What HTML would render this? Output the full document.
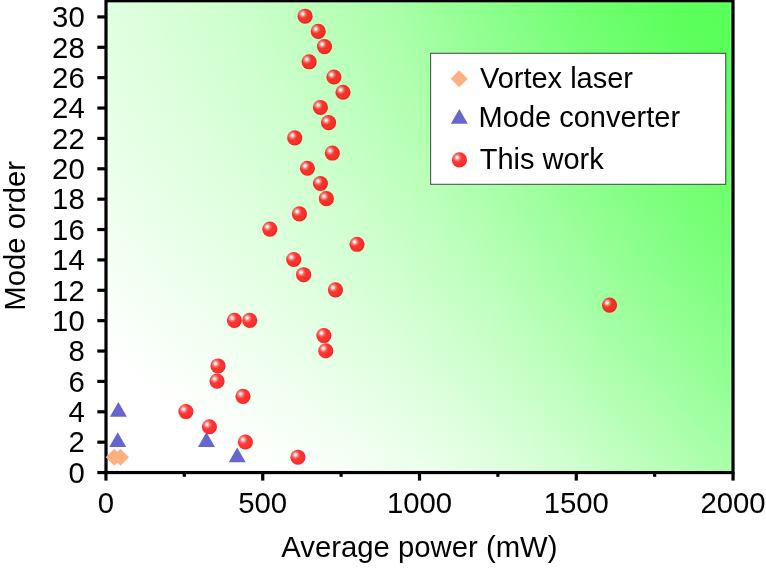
<!DOCTYPE html>
<html><head><meta charset="utf-8"><style>
html,body{margin:0;padding:0;background:#fff;position:relative;width:766px;height:571px;overflow:hidden;}
svg{display:block;will-change:transform;}
text{font-family:"Liberation Sans",sans-serif;font-size:29px;fill:#000;}
.tk{font-size:29.3px;}
.tt{font-size:29.3px;}
#bgw{position:absolute;left:106px;top:0;width:627px;height:473px;overflow:hidden;}
#bgw div{height:2px;}
svg{position:absolute;left:0;top:0;}
</style></head><body>
<div id="bgw"><div style="background:linear-gradient(90deg,#dfffdf,#d9ffd9 7.7%,#d1ffd1 15.4%,#c9ffc9 23.1%,#beffbe 30.8%,#b3ffb3 38.5%,#a6ffa6 46.2%,#98ff98 53.8%,#8aff8a 61.5%,#7cff7c 69.2%,#6eff6e 76.9%,#63ff63 84.6%,#59ff59 92.3%,#57ff57)"></div><div style="background:linear-gradient(90deg,#dfffdf,#d9ffd9 7.7%,#d1ffd1 15.4%,#c9ffc9 23.1%,#bfffbf 30.8%,#b3ffb3 38.5%,#a7ffa7 46.2%,#98ff98 53.8%,#8aff8a 61.5%,#7cff7c 69.2%,#6eff6e 76.9%,#64ff64 84.6%,#59ff59 92.3%,#57ff57)"></div><div style="background:linear-gradient(90deg,#e0ffe0,#d9ffd9 7.7%,#d1ffd1 15.4%,#c9ffc9 23.1%,#bfffbf 30.8%,#b4ffb4 38.5%,#a7ffa7 46.2%,#99ff99 53.8%,#8aff8a 61.5%,#7cff7c 69.2%,#6fff6f 76.9%,#64ff64 84.6%,#59ff59 92.3%,#57ff57)"></div><div style="background:linear-gradient(90deg,#e0ffe0,#d9ffd9 7.7%,#d1ffd1 15.4%,#c9ffc9 23.1%,#bfffbf 30.8%,#b4ffb4 38.5%,#a7ffa7 46.2%,#99ff99 53.8%,#8aff8a 61.5%,#7dff7d 69.2%,#6fff6f 76.9%,#64ff64 84.6%,#5aff5a 92.3%,#57ff57)"></div><div style="background:linear-gradient(90deg,#e0ffe0,#d9ffd9 7.7%,#d1ffd1 15.4%,#c9ffc9 23.1%,#bfffbf 30.8%,#b4ffb4 38.5%,#a8ffa8 46.2%,#99ff99 53.8%,#8bff8b 61.5%,#7dff7d 69.2%,#6fff6f 76.9%,#64ff64 84.6%,#5aff5a 92.3%,#57ff57)"></div><div style="background:linear-gradient(90deg,#e0ffe0,#d9ffd9 7.7%,#d2ffd2 15.4%,#c9ffc9 23.1%,#c0ffc0 30.8%,#b4ffb4 38.5%,#a8ffa8 46.2%,#99ff99 53.8%,#8bff8b 61.5%,#7dff7d 69.2%,#70ff70 76.9%,#65ff65 84.6%,#5aff5a 92.3%,#57ff57)"></div><div style="background:linear-gradient(90deg,#e0ffe0,#d9ffd9 7.7%,#d2ffd2 15.4%,#caffca 23.1%,#c0ffc0 30.8%,#b5ffb5 38.5%,#a8ffa8 46.2%,#9aff9a 53.8%,#8bff8b 61.5%,#7eff7e 69.2%,#70ff70 76.9%,#65ff65 84.6%,#5aff5a 92.3%,#57ff57)"></div><div style="background:linear-gradient(90deg,#e0ffe0,#daffda 7.7%,#d2ffd2 15.4%,#caffca 23.1%,#c0ffc0 30.8%,#b5ffb5 38.5%,#a9ffa9 46.2%,#9aff9a 53.8%,#8cff8c 61.5%,#7eff7e 69.2%,#70ff70 76.9%,#65ff65 84.6%,#5bff5b 92.3%,#58ff58)"></div><div style="background:linear-gradient(90deg,#e0ffe0,#daffda 7.7%,#d2ffd2 15.4%,#caffca 23.1%,#c0ffc0 30.8%,#b5ffb5 38.5%,#a9ffa9 46.2%,#9aff9a 53.8%,#8cff8c 61.5%,#7eff7e 69.2%,#71ff71 76.9%,#66ff66 84.6%,#5bff5b 92.3%,#58ff58)"></div><div style="background:linear-gradient(90deg,#e0ffe0,#daffda 7.7%,#d2ffd2 15.4%,#caffca 23.1%,#c0ffc0 30.8%,#b5ffb5 38.5%,#a9ffa9 46.2%,#9bff9b 53.8%,#8cff8c 61.5%,#7fff7f 69.2%,#71ff71 76.9%,#66ff66 84.6%,#5bff5b 92.3%,#58ff58)"></div><div style="background:linear-gradient(90deg,#e0ffe0,#daffda 7.7%,#d2ffd2 15.4%,#caffca 23.1%,#c1ffc1 30.8%,#b5ffb5 38.5%,#a9ffa9 46.2%,#9bff9b 53.8%,#8cff8c 61.5%,#7fff7f 69.2%,#71ff71 76.9%,#66ff66 84.6%,#5bff5b 92.3%,#58ff58)"></div><div style="background:linear-gradient(90deg,#e1ffe1,#daffda 7.7%,#d2ffd2 15.4%,#caffca 23.1%,#c1ffc1 30.8%,#b6ffb6 38.5%,#aaffaa 46.2%,#9bff9b 53.8%,#8dff8d 61.5%,#7fff7f 69.2%,#72ff72 76.9%,#66ff66 84.6%,#5cff5c 92.3%,#58ff58)"></div><div style="background:linear-gradient(90deg,#e1ffe1,#daffda 7.7%,#d3ffd3 15.4%,#cbffcb 23.1%,#c1ffc1 30.8%,#b6ffb6 38.5%,#aaffaa 46.2%,#9cff9c 53.8%,#8dff8d 61.5%,#7fff7f 69.2%,#72ff72 76.9%,#67ff67 84.6%,#5cff5c 92.3%,#58ff58)"></div><div style="background:linear-gradient(90deg,#e1ffe1,#daffda 7.7%,#d3ffd3 15.4%,#cbffcb 23.1%,#c1ffc1 30.8%,#b6ffb6 38.5%,#aaffaa 46.2%,#9cff9c 53.8%,#8dff8d 61.5%,#80ff80 69.2%,#72ff72 76.9%,#67ff67 84.6%,#5cff5c 92.3%,#58ff58)"></div><div style="background:linear-gradient(90deg,#e1ffe1,#daffda 7.7%,#d3ffd3 15.4%,#cbffcb 23.1%,#c2ffc2 30.8%,#b6ffb6 38.5%,#abffab 46.2%,#9cff9c 53.8%,#8eff8e 61.5%,#80ff80 69.2%,#72ff72 76.9%,#67ff67 84.6%,#5dff5d 92.3%,#58ff58)"></div><div style="background:linear-gradient(90deg,#e1ffe1,#dbffdb 7.7%,#d3ffd3 15.4%,#cbffcb 23.1%,#c2ffc2 30.8%,#b7ffb7 38.5%,#abffab 46.2%,#9cff9c 53.8%,#8eff8e 61.5%,#80ff80 69.2%,#73ff73 76.9%,#67ff67 84.6%,#5dff5d 92.3%,#58ff58)"></div><div style="background:linear-gradient(90deg,#e1ffe1,#dbffdb 7.7%,#d3ffd3 15.4%,#cbffcb 23.1%,#c2ffc2 30.8%,#b7ffb7 38.5%,#abffab 46.2%,#9dff9d 53.8%,#8eff8e 61.5%,#81ff81 69.2%,#73ff73 76.9%,#68ff68 84.6%,#5dff5d 92.3%,#59ff59)"></div><div style="background:linear-gradient(90deg,#e1ffe1,#dbffdb 7.7%,#d3ffd3 15.4%,#cbffcb 23.1%,#c2ffc2 30.8%,#b7ffb7 38.5%,#abffab 46.2%,#9dff9d 53.8%,#8fff8f 61.5%,#81ff81 69.2%,#73ff73 76.9%,#68ff68 84.6%,#5dff5d 92.3%,#59ff59)"></div><div style="background:linear-gradient(90deg,#e1ffe1,#dbffdb 7.7%,#d4ffd4 15.4%,#ccffcc 23.1%,#c2ffc2 30.8%,#b7ffb7 38.5%,#acffac 46.2%,#9dff9d 53.8%,#8fff8f 61.5%,#81ff81 69.2%,#74ff74 76.9%,#68ff68 84.6%,#5eff5e 92.3%,#59ff59)"></div><div style="background:linear-gradient(90deg,#e2ffe2,#dbffdb 7.7%,#d4ffd4 15.4%,#ccffcc 23.1%,#c3ffc3 30.8%,#b8ffb8 38.5%,#acffac 46.2%,#9eff9e 53.8%,#8fff8f 61.5%,#82ff82 69.2%,#74ff74 76.9%,#69ff69 84.6%,#5eff5e 92.3%,#59ff59)"></div><div style="background:linear-gradient(90deg,#e2ffe2,#dbffdb 7.7%,#d4ffd4 15.4%,#ccffcc 23.1%,#c3ffc3 30.8%,#b8ffb8 38.5%,#acffac 46.2%,#9eff9e 53.8%,#90ff90 61.5%,#82ff82 69.2%,#74ff74 76.9%,#69ff69 84.6%,#5eff5e 92.3%,#59ff59)"></div><div style="background:linear-gradient(90deg,#e2ffe2,#dbffdb 7.7%,#d4ffd4 15.4%,#ccffcc 23.1%,#c3ffc3 30.8%,#b8ffb8 38.5%,#adffad 46.2%,#9eff9e 53.8%,#90ff90 61.5%,#82ff82 69.2%,#75ff75 76.9%,#69ff69 84.6%,#5fff5f 92.3%,#59ff59)"></div><div style="background:linear-gradient(90deg,#e2ffe2,#dcffdc 7.7%,#d4ffd4 15.4%,#ccffcc 23.1%,#c3ffc3 30.8%,#b8ffb8 38.5%,#adffad 46.2%,#9fff9f 53.8%,#90ff90 61.5%,#83ff83 69.2%,#75ff75 76.9%,#69ff69 84.6%,#5fff5f 92.3%,#59ff59)"></div><div style="background:linear-gradient(90deg,#e2ffe2,#dcffdc 7.7%,#d4ffd4 15.4%,#ccffcc 23.1%,#c4ffc4 30.8%,#b9ffb9 38.5%,#adffad 46.2%,#9fff9f 53.8%,#91ff91 61.5%,#83ff83 69.2%,#75ff75 76.9%,#6aff6a 84.6%,#5fff5f 92.3%,#59ff59)"></div><div style="background:linear-gradient(90deg,#e2ffe2,#dcffdc 7.7%,#d5ffd5 15.4%,#cdffcd 23.1%,#c4ffc4 30.8%,#b9ffb9 38.5%,#aeffae 46.2%,#9fff9f 53.8%,#91ff91 61.5%,#83ff83 69.2%,#76ff76 76.9%,#6aff6a 84.6%,#5fff5f 92.3%,#59ff59)"></div><div style="background:linear-gradient(90deg,#e2ffe2,#dcffdc 7.7%,#d5ffd5 15.4%,#cdffcd 23.1%,#c4ffc4 30.8%,#b9ffb9 38.5%,#aeffae 46.2%,#a0ffa0 53.8%,#91ff91 61.5%,#83ff83 69.2%,#76ff76 76.9%,#6aff6a 84.6%,#60ff60 92.3%,#5aff5a)"></div><div style="background:linear-gradient(90deg,#e2ffe2,#dcffdc 7.7%,#d5ffd5 15.4%,#cdffcd 23.1%,#c4ffc4 30.8%,#b9ffb9 38.5%,#aeffae 46.2%,#a0ffa0 53.8%,#92ff92 61.5%,#84ff84 69.2%,#76ff76 76.9%,#6bff6b 84.6%,#60ff60 92.3%,#5aff5a)"></div><div style="background:linear-gradient(90deg,#e3ffe3,#dcffdc 7.7%,#d5ffd5 15.4%,#cdffcd 23.1%,#c5ffc5 30.8%,#baffba 38.5%,#afffaf 46.2%,#a0ffa0 53.8%,#92ff92 61.5%,#84ff84 69.2%,#77ff77 76.9%,#6bff6b 84.6%,#60ff60 92.3%,#5aff5a)"></div><div style="background:linear-gradient(90deg,#e3ffe3,#dcffdc 7.7%,#d5ffd5 15.4%,#cdffcd 23.1%,#c5ffc5 30.8%,#baffba 38.5%,#afffaf 46.2%,#a0ffa0 53.8%,#92ff92 61.5%,#84ff84 69.2%,#77ff77 76.9%,#6bff6b 84.6%,#61ff61 92.3%,#5aff5a)"></div><div style="background:linear-gradient(90deg,#e3ffe3,#ddffdd 7.7%,#d6ffd6 15.4%,#ceffce 23.1%,#c5ffc5 30.8%,#baffba 38.5%,#afffaf 46.2%,#a1ffa1 53.8%,#92ff92 61.5%,#85ff85 69.2%,#77ff77 76.9%,#6bff6b 84.6%,#61ff61 92.3%,#5aff5a)"></div><div style="background:linear-gradient(90deg,#e3ffe3,#ddffdd 7.7%,#d6ffd6 15.4%,#ceffce 23.1%,#c5ffc5 30.8%,#baffba 38.5%,#afffaf 46.2%,#a1ffa1 53.8%,#93ff93 61.5%,#85ff85 69.2%,#78ff78 76.9%,#6cff6c 84.6%,#61ff61 92.3%,#5aff5a)"></div><div style="background:linear-gradient(90deg,#e3ffe3,#ddffdd 7.7%,#d6ffd6 15.4%,#ceffce 23.1%,#c6ffc6 30.8%,#bbffbb 38.5%,#b0ffb0 46.2%,#a1ffa1 53.8%,#93ff93 61.5%,#85ff85 69.2%,#78ff78 76.9%,#6cff6c 84.6%,#62ff62 92.3%,#5aff5a)"></div><div style="background:linear-gradient(90deg,#e3ffe3,#ddffdd 7.7%,#d6ffd6 15.4%,#ceffce 23.1%,#c6ffc6 30.8%,#bbffbb 38.5%,#b0ffb0 46.2%,#a2ffa2 53.8%,#93ff93 61.5%,#86ff86 69.2%,#78ff78 76.9%,#6cff6c 84.6%,#62ff62 92.3%,#5aff5a)"></div><div style="background:linear-gradient(90deg,#e3ffe3,#ddffdd 7.7%,#d6ffd6 15.4%,#ceffce 23.1%,#c6ffc6 30.8%,#bbffbb 38.5%,#b0ffb0 46.2%,#a2ffa2 53.8%,#94ff94 61.5%,#86ff86 69.2%,#79ff79 76.9%,#6dff6d 84.6%,#62ff62 92.3%,#5bff5b)"></div><div style="background:linear-gradient(90deg,#e4ffe4,#ddffdd 7.7%,#d6ffd6 15.4%,#ceffce 23.1%,#c6ffc6 30.8%,#bbffbb 38.5%,#b0ffb0 46.2%,#a2ffa2 53.8%,#94ff94 61.5%,#86ff86 69.2%,#79ff79 76.9%,#6dff6d 84.6%,#62ff62 92.3%,#5bff5b)"></div><div style="background:linear-gradient(90deg,#e4ffe4,#ddffdd 7.7%,#d7ffd7 15.4%,#cfffcf 23.1%,#c7ffc7 30.8%,#bcffbc 38.5%,#b1ffb1 46.2%,#a3ffa3 53.8%,#94ff94 61.5%,#87ff87 69.2%,#79ff79 76.9%,#6dff6d 84.6%,#63ff63 92.3%,#5bff5b)"></div><div style="background:linear-gradient(90deg,#e4ffe4,#deffde 7.7%,#d7ffd7 15.4%,#cfffcf 23.1%,#c7ffc7 30.8%,#bcffbc 38.5%,#b1ffb1 46.2%,#a3ffa3 53.8%,#95ff95 61.5%,#87ff87 69.2%,#7aff7a 76.9%,#6dff6d 84.6%,#63ff63 92.3%,#5bff5b)"></div><div style="background:linear-gradient(90deg,#e4ffe4,#deffde 7.7%,#d7ffd7 15.4%,#cfffcf 23.1%,#c7ffc7 30.8%,#bcffbc 38.5%,#b1ffb1 46.2%,#a3ffa3 53.8%,#95ff95 61.5%,#87ff87 69.2%,#7aff7a 76.9%,#6eff6e 84.6%,#63ff63 92.3%,#5bff5b)"></div><div style="background:linear-gradient(90deg,#e4ffe4,#deffde 7.7%,#d7ffd7 15.4%,#cfffcf 23.1%,#c7ffc7 30.8%,#bcffbc 38.5%,#b1ffb1 46.2%,#a4ffa4 53.8%,#95ff95 61.5%,#88ff88 69.2%,#7aff7a 76.9%,#6eff6e 84.6%,#64ff64 92.3%,#5bff5b)"></div><div style="background:linear-gradient(90deg,#e4ffe4,#deffde 7.7%,#d7ffd7 15.4%,#cfffcf 23.1%,#c8ffc8 30.8%,#bdffbd 38.5%,#b2ffb2 46.2%,#a4ffa4 53.8%,#96ff96 61.5%,#88ff88 69.2%,#7bff7b 76.9%,#6eff6e 84.6%,#64ff64 92.3%,#5bff5b)"></div><div style="background:linear-gradient(90deg,#e4ffe4,#deffde 7.7%,#d7ffd7 15.4%,#d0ffd0 23.1%,#c8ffc8 30.8%,#bdffbd 38.5%,#b2ffb2 46.2%,#a4ffa4 53.8%,#96ff96 61.5%,#88ff88 69.2%,#7bff7b 76.9%,#6fff6f 84.6%,#64ff64 92.3%,#5bff5b)"></div><div style="background:linear-gradient(90deg,#e5ffe5,#deffde 7.7%,#d8ffd8 15.4%,#d0ffd0 23.1%,#c8ffc8 30.8%,#bdffbd 38.5%,#b2ffb2 46.2%,#a5ffa5 53.8%,#96ff96 61.5%,#89ff89 69.2%,#7bff7b 76.9%,#6fff6f 84.6%,#65ff65 92.3%,#5cff5c)"></div><div style="background:linear-gradient(90deg,#e5ffe5,#deffde 7.7%,#d8ffd8 15.4%,#d0ffd0 23.1%,#c8ffc8 30.8%,#bdffbd 38.5%,#b2ffb2 46.2%,#a5ffa5 53.8%,#97ff97 61.5%,#89ff89 69.2%,#7cff7c 76.9%,#6fff6f 84.6%,#65ff65 92.3%,#5cff5c)"></div><div style="background:linear-gradient(90deg,#e5ffe5,#dfffdf 7.7%,#d8ffd8 15.4%,#d0ffd0 23.1%,#c8ffc8 30.8%,#beffbe 38.5%,#b3ffb3 46.2%,#a5ffa5 53.8%,#97ff97 61.5%,#89ff89 69.2%,#7cff7c 76.9%,#70ff70 84.6%,#65ff65 92.3%,#5cff5c)"></div><div style="background:linear-gradient(90deg,#e5ffe5,#dfffdf 7.7%,#d8ffd8 15.4%,#d0ffd0 23.1%,#c9ffc9 30.8%,#beffbe 38.5%,#b3ffb3 46.2%,#a6ffa6 53.8%,#97ff97 61.5%,#8aff8a 69.2%,#7cff7c 76.9%,#70ff70 84.6%,#65ff65 92.3%,#5cff5c)"></div><div style="background:linear-gradient(90deg,#e5ffe5,#dfffdf 7.7%,#d8ffd8 15.4%,#d1ffd1 23.1%,#c9ffc9 30.8%,#beffbe 38.5%,#b3ffb3 46.2%,#a6ffa6 53.8%,#98ff98 61.5%,#8aff8a 69.2%,#7dff7d 76.9%,#70ff70 84.6%,#66ff66 92.3%,#5cff5c)"></div><div style="background:linear-gradient(90deg,#e5ffe5,#dfffdf 7.7%,#d9ffd9 15.4%,#d1ffd1 23.1%,#c9ffc9 30.8%,#beffbe 38.5%,#b3ffb3 46.2%,#a6ffa6 53.8%,#98ff98 61.5%,#8aff8a 69.2%,#7dff7d 76.9%,#70ff70 84.6%,#66ff66 92.3%,#5cff5c)"></div><div style="background:linear-gradient(90deg,#e5ffe5,#dfffdf 7.7%,#d9ffd9 15.4%,#d1ffd1 23.1%,#c9ffc9 30.8%,#bfffbf 38.5%,#b4ffb4 46.2%,#a7ffa7 53.8%,#98ff98 61.5%,#8bff8b 69.2%,#7dff7d 76.9%,#71ff71 84.6%,#66ff66 92.3%,#5cff5c)"></div><div style="background:linear-gradient(90deg,#e6ffe6,#dfffdf 7.7%,#d9ffd9 15.4%,#d1ffd1 23.1%,#c9ffc9 30.8%,#bfffbf 38.5%,#b4ffb4 46.2%,#a7ffa7 53.8%,#99ff99 61.5%,#8bff8b 69.2%,#7eff7e 76.9%,#71ff71 84.6%,#67ff67 92.3%,#5cff5c)"></div><div style="background:linear-gradient(90deg,#e6ffe6,#dfffdf 7.7%,#d9ffd9 15.4%,#d1ffd1 23.1%,#caffca 30.8%,#bfffbf 38.5%,#b4ffb4 46.2%,#a7ffa7 53.8%,#99ff99 61.5%,#8bff8b 69.2%,#7eff7e 76.9%,#71ff71 84.6%,#67ff67 92.3%,#5dff5d)"></div><div style="background:linear-gradient(90deg,#e6ffe6,#e0ffe0 7.7%,#d9ffd9 15.4%,#d2ffd2 23.1%,#caffca 30.8%,#bfffbf 38.5%,#b5ffb5 46.2%,#a8ffa8 53.8%,#99ff99 61.5%,#8cff8c 69.2%,#7eff7e 76.9%,#72ff72 84.6%,#67ff67 92.3%,#5dff5d)"></div><div style="background:linear-gradient(90deg,#e6ffe6,#e0ffe0 7.7%,#daffda 15.4%,#d2ffd2 23.1%,#caffca 30.8%,#c0ffc0 38.5%,#b5ffb5 46.2%,#a8ffa8 53.8%,#9aff9a 61.5%,#8cff8c 69.2%,#7fff7f 76.9%,#72ff72 84.6%,#68ff68 92.3%,#5dff5d)"></div><div style="background:linear-gradient(90deg,#e6ffe6,#e0ffe0 7.7%,#daffda 15.4%,#d2ffd2 23.1%,#caffca 30.8%,#c0ffc0 38.5%,#b5ffb5 46.2%,#a8ffa8 53.8%,#9aff9a 61.5%,#8cff8c 69.2%,#7fff7f 76.9%,#72ff72 84.6%,#68ff68 92.3%,#5eff5e)"></div><div style="background:linear-gradient(90deg,#e6ffe6,#e0ffe0 7.7%,#daffda 15.4%,#d2ffd2 23.1%,#caffca 30.8%,#c0ffc0 38.5%,#b5ffb5 46.2%,#a9ffa9 53.8%,#9aff9a 61.5%,#8dff8d 69.2%,#7fff7f 76.9%,#73ff73 84.6%,#68ff68 92.3%,#5eff5e)"></div><div style="background:linear-gradient(90deg,#e6ffe6,#e0ffe0 7.7%,#daffda 15.4%,#d2ffd2 23.1%,#cbffcb 30.8%,#c0ffc0 38.5%,#b6ffb6 46.2%,#a9ffa9 53.8%,#9bff9b 61.5%,#8dff8d 69.2%,#80ff80 76.9%,#73ff73 84.6%,#69ff69 92.3%,#5eff5e)"></div><div style="background:linear-gradient(90deg,#e7ffe7,#e0ffe0 7.7%,#daffda 15.4%,#d3ffd3 23.1%,#cbffcb 30.8%,#c1ffc1 38.5%,#b6ffb6 46.2%,#a9ffa9 53.8%,#9bff9b 61.5%,#8dff8d 69.2%,#80ff80 76.9%,#73ff73 84.6%,#69ff69 92.3%,#5fff5f)"></div><div style="background:linear-gradient(90deg,#e7ffe7,#e1ffe1 7.7%,#daffda 15.4%,#d3ffd3 23.1%,#cbffcb 30.8%,#c1ffc1 38.5%,#b6ffb6 46.2%,#aaffaa 53.8%,#9cff9c 61.5%,#8eff8e 69.2%,#80ff80 76.9%,#73ff73 84.6%,#69ff69 92.3%,#5fff5f)"></div><div style="background:linear-gradient(90deg,#e7ffe7,#e1ffe1 7.7%,#dbffdb 15.4%,#d3ffd3 23.1%,#cbffcb 30.8%,#c1ffc1 38.5%,#b6ffb6 46.2%,#aaffaa 53.8%,#9cff9c 61.5%,#8eff8e 69.2%,#81ff81 76.9%,#74ff74 84.6%,#6aff6a 92.3%,#5fff5f)"></div><div style="background:linear-gradient(90deg,#e7ffe7,#e1ffe1 7.7%,#dbffdb 15.4%,#d3ffd3 23.1%,#ccffcc 30.8%,#c2ffc2 38.5%,#b7ffb7 46.2%,#aaffaa 53.8%,#9cff9c 61.5%,#8eff8e 69.2%,#81ff81 76.9%,#74ff74 84.6%,#6aff6a 92.3%,#60ff60)"></div><div style="background:linear-gradient(90deg,#e7ffe7,#e1ffe1 7.7%,#dbffdb 15.4%,#d3ffd3 23.1%,#ccffcc 30.8%,#c2ffc2 38.5%,#b7ffb7 46.2%,#abffab 53.8%,#9dff9d 61.5%,#8fff8f 69.2%,#81ff81 76.9%,#74ff74 84.6%,#6aff6a 92.3%,#60ff60)"></div><div style="background:linear-gradient(90deg,#e7ffe7,#e1ffe1 7.7%,#dbffdb 15.4%,#d4ffd4 23.1%,#ccffcc 30.8%,#c2ffc2 38.5%,#b7ffb7 46.2%,#abffab 53.8%,#9dff9d 61.5%,#8fff8f 69.2%,#82ff82 76.9%,#75ff75 84.6%,#6aff6a 92.3%,#60ff60)"></div><div style="background:linear-gradient(90deg,#e8ffe8,#e1ffe1 7.7%,#dbffdb 15.4%,#d4ffd4 23.1%,#ccffcc 30.8%,#c2ffc2 38.5%,#b8ffb8 46.2%,#abffab 53.8%,#9dff9d 61.5%,#8fff8f 69.2%,#82ff82 76.9%,#75ff75 84.6%,#6bff6b 92.3%,#61ff61)"></div><div style="background:linear-gradient(90deg,#e8ffe8,#e2ffe2 7.7%,#dcffdc 15.4%,#d4ffd4 23.1%,#ccffcc 30.8%,#c3ffc3 38.5%,#b8ffb8 46.2%,#acffac 53.8%,#9eff9e 61.5%,#90ff90 69.2%,#83ff83 76.9%,#75ff75 84.6%,#6bff6b 92.3%,#61ff61)"></div><div style="background:linear-gradient(90deg,#e8ffe8,#e2ffe2 7.7%,#dcffdc 15.4%,#d4ffd4 23.1%,#cdffcd 30.8%,#c3ffc3 38.5%,#b8ffb8 46.2%,#acffac 53.8%,#9eff9e 61.5%,#90ff90 69.2%,#83ff83 76.9%,#76ff76 84.6%,#6bff6b 92.3%,#61ff61)"></div><div style="background:linear-gradient(90deg,#e8ffe8,#e2ffe2 7.7%,#dcffdc 15.4%,#d4ffd4 23.1%,#cdffcd 30.8%,#c3ffc3 38.5%,#b8ffb8 46.2%,#acffac 53.8%,#9eff9e 61.5%,#90ff90 69.2%,#83ff83 76.9%,#76ff76 84.6%,#6cff6c 92.3%,#62ff62)"></div><div style="background:linear-gradient(90deg,#e8ffe8,#e2ffe2 7.7%,#dcffdc 15.4%,#d5ffd5 23.1%,#cdffcd 30.8%,#c3ffc3 38.5%,#b9ffb9 46.2%,#adffad 53.8%,#9fff9f 61.5%,#91ff91 69.2%,#84ff84 76.9%,#76ff76 84.6%,#6cff6c 92.3%,#62ff62)"></div><div style="background:linear-gradient(90deg,#e8ffe8,#e2ffe2 7.7%,#dcffdc 15.4%,#d5ffd5 23.1%,#cdffcd 30.8%,#c4ffc4 38.5%,#b9ffb9 46.2%,#adffad 53.8%,#9fff9f 61.5%,#91ff91 69.2%,#84ff84 76.9%,#77ff77 84.6%,#6cff6c 92.3%,#62ff62)"></div><div style="background:linear-gradient(90deg,#e9ffe9,#e2ffe2 7.7%,#dcffdc 15.4%,#d5ffd5 23.1%,#cdffcd 30.8%,#c4ffc4 38.5%,#b9ffb9 46.2%,#adffad 53.8%,#9fff9f 61.5%,#92ff92 69.2%,#84ff84 76.9%,#77ff77 84.6%,#6dff6d 92.3%,#63ff63)"></div><div style="background:linear-gradient(90deg,#e9ffe9,#e3ffe3 7.7%,#ddffdd 15.4%,#d5ffd5 23.1%,#ceffce 30.8%,#c4ffc4 38.5%,#baffba 46.2%,#aeffae 53.8%,#a0ffa0 61.5%,#92ff92 69.2%,#85ff85 76.9%,#78ff78 84.6%,#6dff6d 92.3%,#63ff63)"></div><div style="background:linear-gradient(90deg,#e9ffe9,#e3ffe3 7.7%,#ddffdd 15.4%,#d5ffd5 23.1%,#ceffce 30.8%,#c5ffc5 38.5%,#baffba 46.2%,#aeffae 53.8%,#a0ffa0 61.5%,#92ff92 69.2%,#85ff85 76.9%,#78ff78 84.6%,#6dff6d 92.3%,#63ff63)"></div><div style="background:linear-gradient(90deg,#e9ffe9,#e3ffe3 7.7%,#ddffdd 15.4%,#d6ffd6 23.1%,#ceffce 30.8%,#c5ffc5 38.5%,#baffba 46.2%,#aeffae 53.8%,#a0ffa0 61.5%,#93ff93 69.2%,#85ff85 76.9%,#78ff78 84.6%,#6eff6e 92.3%,#64ff64)"></div><div style="background:linear-gradient(90deg,#e9ffe9,#e3ffe3 7.7%,#ddffdd 15.4%,#d6ffd6 23.1%,#ceffce 30.8%,#c5ffc5 38.5%,#baffba 46.2%,#afffaf 53.8%,#a1ffa1 61.5%,#93ff93 69.2%,#86ff86 76.9%,#79ff79 84.6%,#6eff6e 92.3%,#64ff64)"></div><div style="background:linear-gradient(90deg,#e9ffe9,#e3ffe3 7.7%,#ddffdd 15.4%,#d6ffd6 23.1%,#cfffcf 30.8%,#c5ffc5 38.5%,#bbffbb 46.2%,#afffaf 53.8%,#a1ffa1 61.5%,#93ff93 69.2%,#86ff86 76.9%,#79ff79 84.6%,#6eff6e 92.3%,#64ff64)"></div><div style="background:linear-gradient(90deg,#eaffea,#e3ffe3 7.7%,#ddffdd 15.4%,#d6ffd6 23.1%,#cfffcf 30.8%,#c6ffc6 38.5%,#bbffbb 46.2%,#afffaf 53.8%,#a2ffa2 61.5%,#94ff94 69.2%,#86ff86 76.9%,#79ff79 84.6%,#6fff6f 92.3%,#65ff65)"></div><div style="background:linear-gradient(90deg,#eaffea,#e4ffe4 7.7%,#deffde 15.4%,#d7ffd7 23.1%,#cfffcf 30.8%,#c6ffc6 38.5%,#bbffbb 46.2%,#b0ffb0 53.8%,#a2ffa2 61.5%,#94ff94 69.2%,#87ff87 76.9%,#7aff7a 84.6%,#6fff6f 92.3%,#65ff65)"></div><div style="background:linear-gradient(90deg,#eaffea,#e4ffe4 7.7%,#deffde 15.4%,#d7ffd7 23.1%,#cfffcf 30.8%,#c6ffc6 38.5%,#bcffbc 46.2%,#b0ffb0 53.8%,#a2ffa2 61.5%,#94ff94 69.2%,#87ff87 76.9%,#7aff7a 84.6%,#6fff6f 92.3%,#65ff65)"></div><div style="background:linear-gradient(90deg,#eaffea,#e4ffe4 7.7%,#deffde 15.4%,#d7ffd7 23.1%,#cfffcf 30.8%,#c7ffc7 38.5%,#bcffbc 46.2%,#b1ffb1 53.8%,#a3ffa3 61.5%,#95ff95 69.2%,#88ff88 76.9%,#7aff7a 84.6%,#70ff70 92.3%,#66ff66)"></div><div style="background:linear-gradient(90deg,#eaffea,#e4ffe4 7.7%,#deffde 15.4%,#d7ffd7 23.1%,#d0ffd0 30.8%,#c7ffc7 38.5%,#bcffbc 46.2%,#b1ffb1 53.8%,#a3ffa3 61.5%,#95ff95 69.2%,#88ff88 76.9%,#7bff7b 84.6%,#70ff70 92.3%,#66ff66)"></div><div style="background:linear-gradient(90deg,#eaffea,#e4ffe4 7.7%,#deffde 15.4%,#d7ffd7 23.1%,#d0ffd0 30.8%,#c7ffc7 38.5%,#bcffbc 46.2%,#b1ffb1 53.8%,#a3ffa3 61.5%,#95ff95 69.2%,#88ff88 76.9%,#7bff7b 84.6%,#70ff70 92.3%,#66ff66)"></div><div style="background:linear-gradient(90deg,#ebffeb,#e5ffe5 7.7%,#dfffdf 15.4%,#d8ffd8 23.1%,#d0ffd0 30.8%,#c7ffc7 38.5%,#bdffbd 46.2%,#b2ffb2 53.8%,#a4ffa4 61.5%,#96ff96 69.2%,#89ff89 76.9%,#7cff7c 84.6%,#71ff71 92.3%,#67ff67)"></div><div style="background:linear-gradient(90deg,#ebffeb,#e5ffe5 7.7%,#dfffdf 15.4%,#d8ffd8 23.1%,#d0ffd0 30.8%,#c8ffc8 38.5%,#bdffbd 46.2%,#b2ffb2 53.8%,#a4ffa4 61.5%,#96ff96 69.2%,#89ff89 76.9%,#7cff7c 84.6%,#71ff71 92.3%,#67ff67)"></div><div style="background:linear-gradient(90deg,#ebffeb,#e5ffe5 7.7%,#dfffdf 15.4%,#d8ffd8 23.1%,#d1ffd1 30.8%,#c8ffc8 38.5%,#bdffbd 46.2%,#b2ffb2 53.8%,#a4ffa4 61.5%,#97ff97 69.2%,#89ff89 76.9%,#7cff7c 84.6%,#71ff71 92.3%,#67ff67)"></div><div style="background:linear-gradient(90deg,#ebffeb,#e5ffe5 7.7%,#dfffdf 15.4%,#d8ffd8 23.1%,#d1ffd1 30.8%,#c8ffc8 38.5%,#beffbe 46.2%,#b3ffb3 53.8%,#a5ffa5 61.5%,#97ff97 69.2%,#8aff8a 76.9%,#7dff7d 84.6%,#72ff72 92.3%,#68ff68)"></div><div style="background:linear-gradient(90deg,#ebffeb,#e5ffe5 7.7%,#dfffdf 15.4%,#d9ffd9 23.1%,#d1ffd1 30.8%,#c9ffc9 38.5%,#beffbe 46.2%,#b3ffb3 53.8%,#a5ffa5 61.5%,#97ff97 69.2%,#8aff8a 76.9%,#7dff7d 84.6%,#72ff72 92.3%,#68ff68)"></div><div style="background:linear-gradient(90deg,#ecffec,#e5ffe5 7.7%,#e0ffe0 15.4%,#d9ffd9 23.1%,#d1ffd1 30.8%,#c9ffc9 38.5%,#beffbe 46.2%,#b3ffb3 53.8%,#a5ffa5 61.5%,#98ff98 69.2%,#8aff8a 76.9%,#7dff7d 84.6%,#72ff72 92.3%,#68ff68)"></div><div style="background:linear-gradient(90deg,#ecffec,#e6ffe6 7.7%,#e0ffe0 15.4%,#d9ffd9 23.1%,#d2ffd2 30.8%,#c9ffc9 38.5%,#bfffbf 46.2%,#b4ffb4 53.8%,#a6ffa6 61.5%,#98ff98 69.2%,#8bff8b 76.9%,#7eff7e 84.6%,#73ff73 92.3%,#69ff69)"></div><div style="background:linear-gradient(90deg,#ecffec,#e6ffe6 7.7%,#e0ffe0 15.4%,#d9ffd9 23.1%,#d2ffd2 30.8%,#c9ffc9 38.5%,#bfffbf 46.2%,#b4ffb4 53.8%,#a6ffa6 61.5%,#98ff98 69.2%,#8bff8b 76.9%,#7eff7e 84.6%,#73ff73 92.3%,#69ff69)"></div><div style="background:linear-gradient(90deg,#ecffec,#e6ffe6 7.7%,#e0ffe0 15.4%,#d9ffd9 23.1%,#d2ffd2 30.8%,#caffca 38.5%,#bfffbf 46.2%,#b4ffb4 53.8%,#a7ffa7 61.5%,#99ff99 69.2%,#8cff8c 76.9%,#7fff7f 84.6%,#73ff73 92.3%,#69ff69)"></div><div style="background:linear-gradient(90deg,#ecffec,#e6ffe6 7.7%,#e0ffe0 15.4%,#daffda 23.1%,#d2ffd2 30.8%,#caffca 38.5%,#bfffbf 46.2%,#b5ffb5 53.8%,#a7ffa7 61.5%,#99ff99 69.2%,#8cff8c 76.9%,#7fff7f 84.6%,#74ff74 92.3%,#6aff6a)"></div><div style="background:linear-gradient(90deg,#ecffec,#e6ffe6 7.7%,#e0ffe0 15.4%,#daffda 23.1%,#d2ffd2 30.8%,#caffca 38.5%,#c0ffc0 46.2%,#b5ffb5 53.8%,#a7ffa7 61.5%,#9aff9a 69.2%,#8cff8c 76.9%,#7fff7f 84.6%,#74ff74 92.3%,#6aff6a)"></div><div style="background:linear-gradient(90deg,#edffed,#e7ffe7 7.7%,#e1ffe1 15.4%,#daffda 23.1%,#d3ffd3 30.8%,#cbffcb 38.5%,#c0ffc0 46.2%,#b6ffb6 53.8%,#a8ffa8 61.5%,#9aff9a 69.2%,#8dff8d 76.9%,#80ff80 84.6%,#74ff74 92.3%,#6bff6b)"></div><div style="background:linear-gradient(90deg,#edffed,#e7ffe7 7.7%,#e1ffe1 15.4%,#daffda 23.1%,#d3ffd3 30.8%,#cbffcb 38.5%,#c0ffc0 46.2%,#b6ffb6 53.8%,#a8ffa8 61.5%,#9aff9a 69.2%,#8dff8d 76.9%,#80ff80 84.6%,#75ff75 92.3%,#6bff6b)"></div><div style="background:linear-gradient(90deg,#edffed,#e7ffe7 7.7%,#e1ffe1 15.4%,#dbffdb 23.1%,#d3ffd3 30.8%,#cbffcb 38.5%,#c1ffc1 46.2%,#b6ffb6 53.8%,#a8ffa8 61.5%,#9bff9b 69.2%,#8dff8d 76.9%,#81ff81 84.6%,#75ff75 92.3%,#6bff6b)"></div><div style="background:linear-gradient(90deg,#edffed,#e7ffe7 7.7%,#e1ffe1 15.4%,#dbffdb 23.1%,#d3ffd3 30.8%,#ccffcc 38.5%,#c1ffc1 46.2%,#b6ffb6 53.8%,#a9ffa9 61.5%,#9bff9b 69.2%,#8eff8e 76.9%,#81ff81 84.6%,#75ff75 92.3%,#6cff6c)"></div><div style="background:linear-gradient(90deg,#edffed,#e7ffe7 7.7%,#e1ffe1 15.4%,#dbffdb 23.1%,#d4ffd4 30.8%,#ccffcc 38.5%,#c1ffc1 46.2%,#b7ffb7 53.8%,#a9ffa9 61.5%,#9bff9b 69.2%,#8eff8e 76.9%,#81ff81 84.6%,#76ff76 92.3%,#6cff6c)"></div><div style="background:linear-gradient(90deg,#eeffee,#e8ffe8 7.7%,#e2ffe2 15.4%,#dbffdb 23.1%,#d4ffd4 30.8%,#ccffcc 38.5%,#c2ffc2 46.2%,#b7ffb7 53.8%,#aaffaa 61.5%,#9cff9c 69.2%,#8fff8f 76.9%,#82ff82 84.6%,#76ff76 92.3%,#6cff6c)"></div><div style="background:linear-gradient(90deg,#eeffee,#e8ffe8 7.7%,#e2ffe2 15.4%,#dcffdc 23.1%,#d4ffd4 30.8%,#ccffcc 38.5%,#c2ffc2 46.2%,#b7ffb7 53.8%,#aaffaa 61.5%,#9cff9c 69.2%,#8fff8f 76.9%,#82ff82 84.6%,#77ff77 92.3%,#6dff6d)"></div><div style="background:linear-gradient(90deg,#eeffee,#e8ffe8 7.7%,#e2ffe2 15.4%,#dcffdc 23.1%,#d4ffd4 30.8%,#cdffcd 38.5%,#c2ffc2 46.2%,#b8ffb8 53.8%,#aaffaa 61.5%,#9dff9d 69.2%,#8fff8f 76.9%,#82ff82 84.6%,#77ff77 92.3%,#6dff6d)"></div><div style="background:linear-gradient(90deg,#eeffee,#e8ffe8 7.7%,#e2ffe2 15.4%,#dcffdc 23.1%,#d5ffd5 30.8%,#cdffcd 38.5%,#c2ffc2 46.2%,#b8ffb8 53.8%,#abffab 61.5%,#9dff9d 69.2%,#90ff90 76.9%,#83ff83 84.6%,#77ff77 92.3%,#6dff6d)"></div><div style="background:linear-gradient(90deg,#eeffee,#e8ffe8 7.7%,#e2ffe2 15.4%,#dcffdc 23.1%,#d5ffd5 30.8%,#cdffcd 38.5%,#c3ffc3 46.2%,#b8ffb8 53.8%,#abffab 61.5%,#9dff9d 69.2%,#90ff90 76.9%,#83ff83 84.6%,#78ff78 92.3%,#6eff6e)"></div><div style="background:linear-gradient(90deg,#efffef,#e8ffe8 7.7%,#e3ffe3 15.4%,#dcffdc 23.1%,#d5ffd5 30.8%,#ceffce 38.5%,#c3ffc3 46.2%,#b9ffb9 53.8%,#abffab 61.5%,#9eff9e 69.2%,#90ff90 76.9%,#84ff84 84.6%,#78ff78 92.3%,#6eff6e)"></div><div style="background:linear-gradient(90deg,#efffef,#e9ffe9 7.7%,#e3ffe3 15.4%,#ddffdd 23.1%,#d5ffd5 30.8%,#ceffce 38.5%,#c3ffc3 46.2%,#b9ffb9 53.8%,#acffac 61.5%,#9eff9e 69.2%,#91ff91 76.9%,#84ff84 84.6%,#78ff78 92.3%,#6eff6e)"></div><div style="background:linear-gradient(90deg,#efffef,#e9ffe9 7.7%,#e3ffe3 15.4%,#ddffdd 23.1%,#d6ffd6 30.8%,#ceffce 38.5%,#c4ffc4 46.2%,#b9ffb9 53.8%,#acffac 61.5%,#9fff9f 69.2%,#91ff91 76.9%,#84ff84 84.6%,#79ff79 92.3%,#6fff6f)"></div><div style="background:linear-gradient(90deg,#efffef,#e9ffe9 7.7%,#e3ffe3 15.4%,#ddffdd 23.1%,#d6ffd6 30.8%,#cfffcf 38.5%,#c4ffc4 46.2%,#baffba 53.8%,#adffad 61.5%,#9fff9f 69.2%,#92ff92 76.9%,#85ff85 84.6%,#79ff79 92.3%,#6fff6f)"></div><div style="background:linear-gradient(90deg,#efffef,#e9ffe9 7.7%,#e3ffe3 15.4%,#ddffdd 23.1%,#d6ffd6 30.8%,#cfffcf 38.5%,#c4ffc4 46.2%,#baffba 53.8%,#adffad 61.5%,#9fff9f 69.2%,#92ff92 76.9%,#85ff85 84.6%,#79ff79 92.3%,#6fff6f)"></div><div style="background:linear-gradient(90deg,#f0fff0,#e9ffe9 7.7%,#e4ffe4 15.4%,#deffde 23.1%,#d6ffd6 30.8%,#cfffcf 38.5%,#c5ffc5 46.2%,#baffba 53.8%,#adffad 61.5%,#a0ffa0 69.2%,#92ff92 76.9%,#86ff86 84.6%,#7aff7a 92.3%,#70ff70)"></div><div style="background:linear-gradient(90deg,#f0fff0,#eaffea 7.7%,#e4ffe4 15.4%,#deffde 23.1%,#d7ffd7 30.8%,#cfffcf 38.5%,#c5ffc5 46.2%,#bbffbb 53.8%,#aeffae 61.5%,#a0ffa0 69.2%,#93ff93 76.9%,#86ff86 84.6%,#7aff7a 92.3%,#70ff70)"></div><div style="background:linear-gradient(90deg,#f0fff0,#eaffea 7.7%,#e4ffe4 15.4%,#deffde 23.1%,#d7ffd7 30.8%,#d0ffd0 38.5%,#c5ffc5 46.2%,#bbffbb 53.8%,#aeffae 61.5%,#a0ffa0 69.2%,#93ff93 76.9%,#86ff86 84.6%,#7aff7a 92.3%,#71ff71)"></div><div style="background:linear-gradient(90deg,#f0fff0,#eaffea 7.7%,#e4ffe4 15.4%,#deffde 23.1%,#d7ffd7 30.8%,#d0ffd0 38.5%,#c6ffc6 46.2%,#bbffbb 53.8%,#afffaf 61.5%,#a1ffa1 69.2%,#94ff94 76.9%,#87ff87 84.6%,#7bff7b 92.3%,#71ff71)"></div><div style="background:linear-gradient(90deg,#f0fff0,#eaffea 7.7%,#e5ffe5 15.4%,#dfffdf 23.1%,#d7ffd7 30.8%,#d0ffd0 38.5%,#c6ffc6 46.2%,#bcffbc 53.8%,#afffaf 61.5%,#a1ffa1 69.2%,#94ff94 76.9%,#87ff87 84.6%,#7bff7b 92.3%,#71ff71)"></div><div style="background:linear-gradient(90deg,#f1fff1,#eaffea 7.7%,#e5ffe5 15.4%,#dfffdf 23.1%,#d8ffd8 30.8%,#d0ffd0 38.5%,#c6ffc6 46.2%,#bcffbc 53.8%,#afffaf 61.5%,#a2ffa2 69.2%,#94ff94 76.9%,#88ff88 84.6%,#7bff7b 92.3%,#72ff72)"></div><div style="background:linear-gradient(90deg,#f1fff1,#ebffeb 7.7%,#e5ffe5 15.4%,#dfffdf 23.1%,#d8ffd8 30.8%,#d1ffd1 38.5%,#c7ffc7 46.2%,#bcffbc 53.8%,#b0ffb0 61.5%,#a2ffa2 69.2%,#95ff95 76.9%,#88ff88 84.6%,#7cff7c 92.3%,#72ff72)"></div><div style="background:linear-gradient(90deg,#f1fff1,#ebffeb 7.7%,#e5ffe5 15.4%,#dfffdf 23.1%,#d8ffd8 30.8%,#d1ffd1 38.5%,#c7ffc7 46.2%,#bdffbd 53.8%,#b0ffb0 61.5%,#a2ffa2 69.2%,#95ff95 76.9%,#88ff88 84.6%,#7cff7c 92.3%,#72ff72)"></div><div style="background:linear-gradient(90deg,#f1fff1,#ebffeb 7.7%,#e5ffe5 15.4%,#e0ffe0 23.1%,#d8ffd8 30.8%,#d1ffd1 38.5%,#c7ffc7 46.2%,#bdffbd 53.8%,#b0ffb0 61.5%,#a3ffa3 69.2%,#96ff96 76.9%,#89ff89 84.6%,#7dff7d 92.3%,#73ff73)"></div><div style="background:linear-gradient(90deg,#f1fff1,#ebffeb 7.7%,#e6ffe6 15.4%,#e0ffe0 23.1%,#d9ffd9 30.8%,#d1ffd1 38.5%,#c8ffc8 46.2%,#bdffbd 53.8%,#b1ffb1 61.5%,#a3ffa3 69.2%,#96ff96 76.9%,#89ff89 84.6%,#7dff7d 92.3%,#73ff73)"></div><div style="background:linear-gradient(90deg,#f2fff2,#ecffec 7.7%,#e6ffe6 15.4%,#e0ffe0 23.1%,#d9ffd9 30.8%,#d2ffd2 38.5%,#c8ffc8 46.2%,#beffbe 53.8%,#b1ffb1 61.5%,#a4ffa4 69.2%,#96ff96 76.9%,#8aff8a 84.6%,#7dff7d 92.3%,#73ff73)"></div><div style="background:linear-gradient(90deg,#f2fff2,#ecffec 7.7%,#e6ffe6 15.4%,#e0ffe0 23.1%,#d9ffd9 30.8%,#d2ffd2 38.5%,#c8ffc8 46.2%,#beffbe 53.8%,#b2ffb2 61.5%,#a4ffa4 69.2%,#97ff97 76.9%,#8aff8a 84.6%,#7eff7e 92.3%,#74ff74)"></div><div style="background:linear-gradient(90deg,#f2fff2,#ecffec 7.7%,#e6ffe6 15.4%,#e1ffe1 23.1%,#d9ffd9 30.8%,#d2ffd2 38.5%,#c9ffc9 46.2%,#beffbe 53.8%,#b2ffb2 61.5%,#a4ffa4 69.2%,#97ff97 76.9%,#8aff8a 84.6%,#7eff7e 92.3%,#74ff74)"></div><div style="background:linear-gradient(90deg,#f2fff2,#ecffec 7.7%,#e6ffe6 15.4%,#e1ffe1 23.1%,#daffda 30.8%,#d2ffd2 38.5%,#c9ffc9 46.2%,#bfffbf 53.8%,#b2ffb2 61.5%,#a5ffa5 69.2%,#98ff98 76.9%,#8bff8b 84.6%,#7eff7e 92.3%,#75ff75)"></div><div style="background:linear-gradient(90deg,#f2fff2,#ecffec 7.7%,#e7ffe7 15.4%,#e1ffe1 23.1%,#daffda 30.8%,#d3ffd3 38.5%,#c9ffc9 46.2%,#bfffbf 53.8%,#b3ffb3 61.5%,#a5ffa5 69.2%,#98ff98 76.9%,#8bff8b 84.6%,#7fff7f 92.3%,#75ff75)"></div><div style="background:linear-gradient(90deg,#f3fff3,#edffed 7.7%,#e7ffe7 15.4%,#e1ffe1 23.1%,#daffda 30.8%,#d3ffd3 38.5%,#c9ffc9 46.2%,#bfffbf 53.8%,#b3ffb3 61.5%,#a6ffa6 69.2%,#98ff98 76.9%,#8cff8c 84.6%,#7fff7f 92.3%,#75ff75)"></div><div style="background:linear-gradient(90deg,#f3fff3,#edffed 7.7%,#e7ffe7 15.4%,#e2ffe2 23.1%,#daffda 30.8%,#d3ffd3 38.5%,#caffca 46.2%,#c0ffc0 53.8%,#b4ffb4 61.5%,#a6ffa6 69.2%,#99ff99 76.9%,#8cff8c 84.6%,#7fff7f 92.3%,#76ff76)"></div><div style="background:linear-gradient(90deg,#f3fff3,#edffed 7.7%,#e7ffe7 15.4%,#e2ffe2 23.1%,#dbffdb 30.8%,#d4ffd4 38.5%,#caffca 46.2%,#c0ffc0 53.8%,#b4ffb4 61.5%,#a6ffa6 69.2%,#99ff99 76.9%,#8cff8c 84.6%,#80ff80 92.3%,#76ff76)"></div><div style="background:linear-gradient(90deg,#f3fff3,#edffed 7.7%,#e8ffe8 15.4%,#e2ffe2 23.1%,#dbffdb 30.8%,#d4ffd4 38.5%,#caffca 46.2%,#c0ffc0 53.8%,#b4ffb4 61.5%,#a7ffa7 69.2%,#9aff9a 76.9%,#8dff8d 84.6%,#80ff80 92.3%,#76ff76)"></div><div style="background:linear-gradient(90deg,#f4fff4,#edffed 7.7%,#e8ffe8 15.4%,#e2ffe2 23.1%,#dbffdb 30.8%,#d4ffd4 38.5%,#cbffcb 46.2%,#c1ffc1 53.8%,#b5ffb5 61.5%,#a7ffa7 69.2%,#9aff9a 76.9%,#8dff8d 84.6%,#81ff81 92.3%,#77ff77)"></div><div style="background:linear-gradient(90deg,#f4fff4,#eeffee 7.7%,#e8ffe8 15.4%,#e2ffe2 23.1%,#dbffdb 30.8%,#d4ffd4 38.5%,#cbffcb 46.2%,#c1ffc1 53.8%,#b5ffb5 61.5%,#a8ffa8 69.2%,#9aff9a 76.9%,#8eff8e 84.6%,#81ff81 92.3%,#77ff77)"></div><div style="background:linear-gradient(90deg,#f4fff4,#eeffee 7.7%,#e8ffe8 15.4%,#e3ffe3 23.1%,#dcffdc 30.8%,#d5ffd5 38.5%,#cbffcb 46.2%,#c1ffc1 53.8%,#b6ffb6 61.5%,#a8ffa8 69.2%,#9bff9b 76.9%,#8eff8e 84.6%,#81ff81 92.3%,#78ff78)"></div><div style="background:linear-gradient(90deg,#f4fff4,#eeffee 7.7%,#e8ffe8 15.4%,#e3ffe3 23.1%,#dcffdc 30.8%,#d5ffd5 38.5%,#ccffcc 46.2%,#c2ffc2 53.8%,#b6ffb6 61.5%,#a8ffa8 69.2%,#9bff9b 76.9%,#8eff8e 84.6%,#82ff82 92.3%,#78ff78)"></div><div style="background:linear-gradient(90deg,#f4fff4,#eeffee 7.7%,#e9ffe9 15.4%,#e3ffe3 23.1%,#dcffdc 30.8%,#d5ffd5 38.5%,#ccffcc 46.2%,#c2ffc2 53.8%,#b6ffb6 61.5%,#a9ffa9 69.2%,#9cff9c 76.9%,#8fff8f 84.6%,#82ff82 92.3%,#78ff78)"></div><div style="background:linear-gradient(90deg,#f5fff5,#efffef 7.7%,#e9ffe9 15.4%,#e3ffe3 23.1%,#ddffdd 30.8%,#d5ffd5 38.5%,#ccffcc 46.2%,#c2ffc2 53.8%,#b7ffb7 61.5%,#a9ffa9 69.2%,#9cff9c 76.9%,#8fff8f 84.6%,#83ff83 92.3%,#79ff79)"></div><div style="background:linear-gradient(90deg,#f5fff5,#efffef 7.7%,#e9ffe9 15.4%,#e4ffe4 23.1%,#ddffdd 30.8%,#d6ffd6 38.5%,#cdffcd 46.2%,#c3ffc3 53.8%,#b7ffb7 61.5%,#aaffaa 69.2%,#9cff9c 76.9%,#90ff90 84.6%,#83ff83 92.3%,#79ff79)"></div><div style="background:linear-gradient(90deg,#f5fff5,#efffef 7.7%,#e9ffe9 15.4%,#e4ffe4 23.1%,#ddffdd 30.8%,#d6ffd6 38.5%,#cdffcd 46.2%,#c3ffc3 53.8%,#b8ffb8 61.5%,#aaffaa 69.2%,#9dff9d 76.9%,#90ff90 84.6%,#83ff83 92.3%,#7aff7a)"></div><div style="background:linear-gradient(90deg,#f5fff5,#efffef 7.7%,#eaffea 15.4%,#e4ffe4 23.1%,#ddffdd 30.8%,#d6ffd6 38.5%,#cdffcd 46.2%,#c3ffc3 53.8%,#b8ffb8 61.5%,#aaffaa 69.2%,#9dff9d 76.9%,#90ff90 84.6%,#84ff84 92.3%,#7aff7a)"></div><div style="background:linear-gradient(90deg,#f6fff6,#efffef 7.7%,#eaffea 15.4%,#e4ffe4 23.1%,#deffde 30.8%,#d7ffd7 38.5%,#ceffce 46.2%,#c4ffc4 53.8%,#b8ffb8 61.5%,#abffab 69.2%,#9eff9e 76.9%,#91ff91 84.6%,#84ff84 92.3%,#7aff7a)"></div><div style="background:linear-gradient(90deg,#f6fff6,#f0fff0 7.7%,#eaffea 15.4%,#e5ffe5 23.1%,#deffde 30.8%,#d7ffd7 38.5%,#ceffce 46.2%,#c4ffc4 53.8%,#b9ffb9 61.5%,#abffab 69.2%,#9eff9e 76.9%,#91ff91 84.6%,#85ff85 92.3%,#7bff7b)"></div><div style="background:linear-gradient(90deg,#f6fff6,#f0fff0 7.7%,#eaffea 15.4%,#e5ffe5 23.1%,#deffde 30.8%,#d7ffd7 38.5%,#ceffce 46.2%,#c4ffc4 53.8%,#b9ffb9 61.5%,#acffac 69.2%,#9eff9e 76.9%,#92ff92 84.6%,#85ff85 92.3%,#7bff7b)"></div><div style="background:linear-gradient(90deg,#f6fff6,#f0fff0 7.7%,#eaffea 15.4%,#e5ffe5 23.1%,#deffde 30.8%,#d7ffd7 38.5%,#cfffcf 46.2%,#c5ffc5 53.8%,#baffba 61.5%,#acffac 69.2%,#9fff9f 76.9%,#92ff92 84.6%,#86ff86 92.3%,#7bff7b)"></div><div style="background:linear-gradient(90deg,#f6fff6,#f0fff0 7.7%,#ebffeb 15.4%,#e5ffe5 23.1%,#dfffdf 30.8%,#d8ffd8 38.5%,#cfffcf 46.2%,#c5ffc5 53.8%,#baffba 61.5%,#adffad 69.2%,#9fff9f 76.9%,#93ff93 84.6%,#86ff86 92.3%,#7cff7c)"></div><div style="background:linear-gradient(90deg,#f7fff7,#f1fff1 7.7%,#ebffeb 15.4%,#e5ffe5 23.1%,#dfffdf 30.8%,#d8ffd8 38.5%,#cfffcf 46.2%,#c5ffc5 53.8%,#baffba 61.5%,#adffad 69.2%,#a0ffa0 76.9%,#93ff93 84.6%,#86ff86 92.3%,#7cff7c)"></div><div style="background:linear-gradient(90deg,#f7fff7,#f1fff1 7.7%,#ebffeb 15.4%,#e6ffe6 23.1%,#dfffdf 30.8%,#d8ffd8 38.5%,#d0ffd0 46.2%,#c6ffc6 53.8%,#bbffbb 61.5%,#adffad 69.2%,#a0ffa0 76.9%,#93ff93 84.6%,#87ff87 92.3%,#7dff7d)"></div><div style="background:linear-gradient(90deg,#f7fff7,#f1fff1 7.7%,#ebffeb 15.4%,#e6ffe6 23.1%,#dfffdf 30.8%,#d8ffd8 38.5%,#d0ffd0 46.2%,#c6ffc6 53.8%,#bbffbb 61.5%,#aeffae 69.2%,#a0ffa0 76.9%,#94ff94 84.6%,#87ff87 92.3%,#7dff7d)"></div><div style="background:linear-gradient(90deg,#f7fff7,#f1fff1 7.7%,#ecffec 15.4%,#e6ffe6 23.1%,#e0ffe0 30.8%,#d9ffd9 38.5%,#d0ffd0 46.2%,#c6ffc6 53.8%,#bcffbc 61.5%,#aeffae 69.2%,#a1ffa1 76.9%,#94ff94 84.6%,#88ff88 92.3%,#7dff7d)"></div><div style="background:linear-gradient(90deg,#f8fff8,#f1fff1 7.7%,#ecffec 15.4%,#e6ffe6 23.1%,#e0ffe0 30.8%,#d9ffd9 38.5%,#d1ffd1 46.2%,#c7ffc7 53.8%,#bcffbc 61.5%,#afffaf 69.2%,#a1ffa1 76.9%,#95ff95 84.6%,#88ff88 92.3%,#7eff7e)"></div><div style="background:linear-gradient(90deg,#f8fff8,#f2fff2 7.7%,#ecffec 15.4%,#e7ffe7 23.1%,#e0ffe0 30.8%,#d9ffd9 38.5%,#d1ffd1 46.2%,#c7ffc7 53.8%,#bcffbc 61.5%,#afffaf 69.2%,#a2ffa2 76.9%,#95ff95 84.6%,#89ff89 92.3%,#7eff7e)"></div><div style="background:linear-gradient(90deg,#f8fff8,#f2fff2 7.7%,#ecffec 15.4%,#e7ffe7 23.1%,#e1ffe1 30.8%,#daffda 38.5%,#d2ffd2 46.2%,#c7ffc7 53.8%,#bdffbd 61.5%,#afffaf 69.2%,#a2ffa2 76.9%,#95ff95 84.6%,#89ff89 92.3%,#7fff7f)"></div><div style="background:linear-gradient(90deg,#f8fff8,#f2fff2 7.7%,#edffed 15.4%,#e7ffe7 23.1%,#e1ffe1 30.8%,#daffda 38.5%,#d2ffd2 46.2%,#c8ffc8 53.8%,#bdffbd 61.5%,#b0ffb0 69.2%,#a3ffa3 76.9%,#96ff96 84.6%,#89ff89 92.3%,#7fff7f)"></div><div style="background:linear-gradient(90deg,#f8fff8,#f2fff2 7.7%,#edffed 15.4%,#e7ffe7 23.1%,#e1ffe1 30.8%,#daffda 38.5%,#d2ffd2 46.2%,#c8ffc8 53.8%,#beffbe 61.5%,#b0ffb0 69.2%,#a3ffa3 76.9%,#96ff96 84.6%,#8aff8a 92.3%,#7fff7f)"></div><div style="background:linear-gradient(90deg,#f9fff9,#f3fff3 7.7%,#edffed 15.4%,#e8ffe8 23.1%,#e1ffe1 30.8%,#daffda 38.5%,#d3ffd3 46.2%,#c8ffc8 53.8%,#beffbe 61.5%,#b1ffb1 69.2%,#a3ffa3 76.9%,#97ff97 84.6%,#8aff8a 92.3%,#80ff80)"></div><div style="background:linear-gradient(90deg,#f9fff9,#f3fff3 7.7%,#edffed 15.4%,#e8ffe8 23.1%,#e2ffe2 30.8%,#dbffdb 38.5%,#d3ffd3 46.2%,#c9ffc9 53.8%,#bfffbf 61.5%,#b1ffb1 69.2%,#a4ffa4 76.9%,#97ff97 84.6%,#8bff8b 92.3%,#80ff80)"></div><div style="background:linear-gradient(90deg,#f9fff9,#f3fff3 7.7%,#eeffee 15.4%,#e8ffe8 23.1%,#e2ffe2 30.8%,#dbffdb 38.5%,#d3ffd3 46.2%,#c9ffc9 53.8%,#bfffbf 61.5%,#b2ffb2 69.2%,#a4ffa4 76.9%,#98ff98 84.6%,#8bff8b 92.3%,#81ff81)"></div><div style="background:linear-gradient(90deg,#f9fff9,#f3fff3 7.7%,#eeffee 15.4%,#e8ffe8 23.1%,#e2ffe2 30.8%,#dbffdb 38.5%,#d4ffd4 46.2%,#caffca 53.8%,#bfffbf 61.5%,#b2ffb2 69.2%,#a5ffa5 76.9%,#98ff98 84.6%,#8cff8c 92.3%,#81ff81)"></div><div style="background:linear-gradient(90deg,#fafffa,#f4fff4 7.7%,#eeffee 15.4%,#e9ffe9 23.1%,#e3ffe3 30.8%,#dcffdc 38.5%,#d4ffd4 46.2%,#caffca 53.8%,#c0ffc0 61.5%,#b2ffb2 69.2%,#a5ffa5 76.9%,#98ff98 84.6%,#8cff8c 92.3%,#81ff81)"></div><div style="background:linear-gradient(90deg,#fafffa,#f4fff4 7.7%,#eeffee 15.4%,#e9ffe9 23.1%,#e3ffe3 30.8%,#dcffdc 38.5%,#d4ffd4 46.2%,#caffca 53.8%,#c0ffc0 61.5%,#b3ffb3 69.2%,#a6ffa6 76.9%,#99ff99 84.6%,#8cff8c 92.3%,#82ff82)"></div><div style="background:linear-gradient(90deg,#fafffa,#f4fff4 7.7%,#efffef 15.4%,#e9ffe9 23.1%,#e3ffe3 30.8%,#dcffdc 38.5%,#d5ffd5 46.2%,#cbffcb 53.8%,#c1ffc1 61.5%,#b3ffb3 69.2%,#a6ffa6 76.9%,#99ff99 84.6%,#8dff8d 92.3%,#82ff82)"></div><div style="background:linear-gradient(90deg,#fafffa,#f4fff4 7.7%,#efffef 15.4%,#e9ffe9 23.1%,#e3ffe3 30.8%,#ddffdd 38.5%,#d5ffd5 46.2%,#cbffcb 53.8%,#c1ffc1 61.5%,#b4ffb4 69.2%,#a6ffa6 76.9%,#9aff9a 84.6%,#8dff8d 92.3%,#82ff82)"></div><div style="background:linear-gradient(90deg,#fbfffb,#f5fff5 7.7%,#efffef 15.4%,#eaffea 23.1%,#e4ffe4 30.8%,#ddffdd 38.5%,#d5ffd5 46.2%,#cbffcb 53.8%,#c1ffc1 61.5%,#b4ffb4 69.2%,#a7ffa7 76.9%,#9aff9a 84.6%,#8eff8e 92.3%,#83ff83)"></div><div style="background:linear-gradient(90deg,#fbfffb,#f5fff5 7.7%,#efffef 15.4%,#eaffea 23.1%,#e4ffe4 30.8%,#ddffdd 38.5%,#d6ffd6 46.2%,#ccffcc 53.8%,#c2ffc2 61.5%,#b5ffb5 69.2%,#a7ffa7 76.9%,#9bff9b 84.6%,#8eff8e 92.3%,#83ff83)"></div><div style="background:linear-gradient(90deg,#fbfffb,#f5fff5 7.7%,#f0fff0 15.4%,#eaffea 23.1%,#e4ffe4 30.8%,#ddffdd 38.5%,#d6ffd6 46.2%,#ccffcc 53.8%,#c2ffc2 61.5%,#b5ffb5 69.2%,#a8ffa8 76.9%,#9bff9b 84.6%,#8fff8f 92.3%,#84ff84)"></div><div style="background:linear-gradient(90deg,#fbfffb,#f5fff5 7.7%,#f0fff0 15.4%,#eaffea 23.1%,#e5ffe5 30.8%,#deffde 38.5%,#d6ffd6 46.2%,#ccffcc 53.8%,#c2ffc2 61.5%,#b5ffb5 69.2%,#a8ffa8 76.9%,#9cff9c 84.6%,#8fff8f 92.3%,#84ff84)"></div><div style="background:linear-gradient(90deg,#fcfffc,#f6fff6 7.7%,#f0fff0 15.4%,#ebffeb 23.1%,#e5ffe5 30.8%,#deffde 38.5%,#d7ffd7 46.2%,#cdffcd 53.8%,#c3ffc3 61.5%,#b6ffb6 69.2%,#a9ffa9 76.9%,#9cff9c 84.6%,#90ff90 92.3%,#85ff85)"></div><div style="background:linear-gradient(90deg,#fcfffc,#f6fff6 7.7%,#f0fff0 15.4%,#ebffeb 23.1%,#e5ffe5 30.8%,#deffde 38.5%,#d7ffd7 46.2%,#cdffcd 53.8%,#c3ffc3 61.5%,#b6ffb6 69.2%,#a9ffa9 76.9%,#9cff9c 84.6%,#90ff90 92.3%,#85ff85)"></div><div style="background:linear-gradient(90deg,#fcfffc,#f6fff6 7.7%,#f1fff1 15.4%,#ebffeb 23.1%,#e5ffe5 30.8%,#dfffdf 38.5%,#d8ffd8 46.2%,#ceffce 53.8%,#c4ffc4 61.5%,#b7ffb7 69.2%,#aaffaa 76.9%,#9dff9d 84.6%,#90ff90 92.3%,#85ff85)"></div><div style="background:linear-gradient(90deg,#fcfffc,#f6fff6 7.7%,#f1fff1 15.4%,#ebffeb 23.1%,#e6ffe6 30.8%,#dfffdf 38.5%,#d8ffd8 46.2%,#ceffce 53.8%,#c4ffc4 61.5%,#b7ffb7 69.2%,#aaffaa 76.9%,#9dff9d 84.6%,#91ff91 92.3%,#86ff86)"></div><div style="background:linear-gradient(90deg,#fdfffd,#f7fff7 7.7%,#f1fff1 15.4%,#ecffec 23.1%,#e6ffe6 30.8%,#dfffdf 38.5%,#d8ffd8 46.2%,#ceffce 53.8%,#c4ffc4 61.5%,#b8ffb8 69.2%,#aaffaa 76.9%,#9eff9e 84.6%,#91ff91 92.3%,#86ff86)"></div><div style="background:linear-gradient(90deg,#fdfffd,#f7fff7 7.7%,#f1fff1 15.4%,#ecffec 23.1%,#e6ffe6 30.8%,#dfffdf 38.5%,#d9ffd9 46.2%,#cfffcf 53.8%,#c5ffc5 61.5%,#b8ffb8 69.2%,#abffab 76.9%,#9eff9e 84.6%,#92ff92 92.3%,#87ff87)"></div><div style="background:linear-gradient(90deg,#fdfffd,#f7fff7 7.7%,#f2fff2 15.4%,#ecffec 23.1%,#e7ffe7 30.8%,#e0ffe0 38.5%,#d9ffd9 46.2%,#cfffcf 53.8%,#c5ffc5 61.5%,#b8ffb8 69.2%,#abffab 76.9%,#9fff9f 84.6%,#92ff92 92.3%,#87ff87)"></div><div style="background:linear-gradient(90deg,#fdfffd,#f7fff7 7.7%,#f2fff2 15.4%,#edffed 23.1%,#e7ffe7 30.8%,#e0ffe0 38.5%,#d9ffd9 46.2%,#cfffcf 53.8%,#c5ffc5 61.5%,#b9ffb9 69.2%,#acffac 76.9%,#9fff9f 84.6%,#93ff93 92.3%,#87ff87)"></div><div style="background:linear-gradient(90deg,#fefffe,#f8fff8 7.7%,#f2fff2 15.4%,#edffed 23.1%,#e7ffe7 30.8%,#e0ffe0 38.5%,#daffda 46.2%,#d0ffd0 53.8%,#c6ffc6 61.5%,#b9ffb9 69.2%,#acffac 76.9%,#9fff9f 84.6%,#93ff93 92.3%,#88ff88)"></div><div style="background:linear-gradient(90deg,#fefffe,#f8fff8 7.7%,#f2fff2 15.4%,#edffed 23.1%,#e8ffe8 30.8%,#e1ffe1 38.5%,#daffda 46.2%,#d0ffd0 53.8%,#c6ffc6 61.5%,#baffba 69.2%,#adffad 76.9%,#a0ffa0 84.6%,#94ff94 92.3%,#88ff88)"></div><div style="background:linear-gradient(90deg,#fefffe,#f8fff8 7.7%,#f3fff3 15.4%,#edffed 23.1%,#e8ffe8 30.8%,#e1ffe1 38.5%,#daffda 46.2%,#d0ffd0 53.8%,#c7ffc7 61.5%,#baffba 69.2%,#adffad 76.9%,#a0ffa0 84.6%,#94ff94 92.3%,#89ff89)"></div><div style="background:linear-gradient(90deg,#fefffe,#f8fff8 7.7%,#f3fff3 15.4%,#eeffee 23.1%,#e8ffe8 30.8%,#e1ffe1 38.5%,#dbffdb 46.2%,#d1ffd1 53.8%,#c7ffc7 61.5%,#bbffbb 69.2%,#aeffae 76.9%,#a1ffa1 84.6%,#94ff94 92.3%,#89ff89)"></div><div style="background:linear-gradient(90deg,#ffffff,#f9fff9 7.7%,#f3fff3 15.4%,#eeffee 23.1%,#e8ffe8 30.8%,#e2ffe2 38.5%,#dbffdb 46.2%,#d1ffd1 53.8%,#c7ffc7 61.5%,#bbffbb 69.2%,#aeffae 76.9%,#a1ffa1 84.6%,#95ff95 92.3%,#89ff89)"></div><div style="background:linear-gradient(90deg,#ffffff,#f9fff9 7.7%,#f3fff3 15.4%,#eeffee 23.1%,#e9ffe9 30.8%,#e2ffe2 38.5%,#dbffdb 46.2%,#d2ffd2 53.8%,#c8ffc8 61.5%,#bcffbc 69.2%,#aeffae 76.9%,#a2ffa2 84.6%,#95ff95 92.3%,#8aff8a)"></div><div style="background:linear-gradient(90deg,#ffffff,#f9fff9 7.7%,#f4fff4 15.4%,#eeffee 23.1%,#e9ffe9 30.8%,#e2ffe2 38.5%,#dcffdc 46.2%,#d2ffd2 53.8%,#c8ffc8 61.5%,#bcffbc 69.2%,#afffaf 76.9%,#a2ffa2 84.6%,#96ff96 92.3%,#8aff8a)"></div><div style="background:linear-gradient(90deg,#ffffff,#f9fff9 7.7%,#f4fff4 15.4%,#efffef 23.1%,#e9ffe9 30.8%,#e3ffe3 38.5%,#dcffdc 46.2%,#d2ffd2 53.8%,#c8ffc8 61.5%,#bcffbc 69.2%,#afffaf 76.9%,#a3ffa3 84.6%,#96ff96 92.3%,#8bff8b)"></div><div style="background:linear-gradient(90deg,#ffffff,#fafffa 7.7%,#f4fff4 15.4%,#efffef 23.1%,#eaffea 30.8%,#e3ffe3 38.5%,#dcffdc 46.2%,#d3ffd3 53.8%,#c9ffc9 61.5%,#bdffbd 69.2%,#b0ffb0 76.9%,#a3ffa3 84.6%,#97ff97 92.3%,#8bff8b)"></div><div style="background:linear-gradient(90deg,#ffffff,#fafffa 7.7%,#f4fff4 15.4%,#efffef 23.1%,#eaffea 30.8%,#e3ffe3 38.5%,#dcffdc 46.2%,#d3ffd3 53.8%,#c9ffc9 61.5%,#bdffbd 69.2%,#b0ffb0 76.9%,#a3ffa3 84.6%,#97ff97 92.3%,#8bff8b)"></div><div style="background:linear-gradient(90deg,#ffffff,#fafffa 7.7%,#f5fff5 15.4%,#efffef 23.1%,#eaffea 30.8%,#e3ffe3 38.5%,#ddffdd 46.2%,#d3ffd3 53.8%,#caffca 61.5%,#beffbe 69.2%,#b1ffb1 76.9%,#a4ffa4 84.6%,#98ff98 92.3%,#8cff8c)"></div><div style="background:linear-gradient(90deg,#ffffff,#fbfffb 7.7%,#f5fff5 15.4%,#f0fff0 23.1%,#ebffeb 30.8%,#e4ffe4 38.5%,#ddffdd 46.2%,#d4ffd4 53.8%,#caffca 61.5%,#beffbe 69.2%,#b1ffb1 76.9%,#a4ffa4 84.6%,#98ff98 92.3%,#8cff8c)"></div><div style="background:linear-gradient(90deg,#ffffff,#fbfffb 7.7%,#f5fff5 15.4%,#f0fff0 23.1%,#ebffeb 30.8%,#e4ffe4 38.5%,#ddffdd 46.2%,#d4ffd4 53.8%,#caffca 61.5%,#bfffbf 69.2%,#b2ffb2 76.9%,#a5ffa5 84.6%,#99ff99 92.3%,#8dff8d)"></div><div style="background:linear-gradient(90deg,#ffffff,#fbfffb 7.7%,#f5fff5 15.4%,#f0fff0 23.1%,#ebffeb 30.8%,#e4ffe4 38.5%,#deffde 46.2%,#d5ffd5 53.8%,#cbffcb 61.5%,#bfffbf 69.2%,#b2ffb2 76.9%,#a5ffa5 84.6%,#99ff99 92.3%,#8dff8d)"></div><div style="background:linear-gradient(90deg,#ffffff,#fbfffb 7.7%,#f6fff6 15.4%,#f1fff1 23.1%,#ebffeb 30.8%,#e5ffe5 38.5%,#deffde 46.2%,#d5ffd5 53.8%,#cbffcb 61.5%,#c0ffc0 69.2%,#b2ffb2 76.9%,#a6ffa6 84.6%,#99ff99 92.3%,#8eff8e)"></div><div style="background:linear-gradient(90deg,#ffffff,#fcfffc 7.7%,#f6fff6 15.4%,#f1fff1 23.1%,#ecffec 30.8%,#e5ffe5 38.5%,#deffde 46.2%,#d5ffd5 53.8%,#ccffcc 61.5%,#c0ffc0 69.2%,#b3ffb3 76.9%,#a6ffa6 84.6%,#9aff9a 92.3%,#8eff8e)"></div><div style="background:linear-gradient(90deg,#ffffff,#fcfffc 7.7%,#f6fff6 15.4%,#f1fff1 23.1%,#ecffec 30.8%,#e5ffe5 38.5%,#dfffdf 46.2%,#d6ffd6 53.8%,#ccffcc 61.5%,#c0ffc0 69.2%,#b3ffb3 76.9%,#a7ffa7 84.6%,#9aff9a 92.3%,#8eff8e)"></div><div style="background:linear-gradient(90deg,#ffffff,#fcfffc 7.7%,#f6fff6 15.4%,#f1fff1 23.1%,#ecffec 30.8%,#e6ffe6 38.5%,#dfffdf 46.2%,#d6ffd6 53.8%,#ccffcc 61.5%,#c1ffc1 69.2%,#b4ffb4 76.9%,#a7ffa7 84.6%,#9bff9b 92.3%,#8fff8f)"></div><div style="background:linear-gradient(90deg,#ffffff,#fcfffc 7.7%,#f7fff7 15.4%,#f2fff2 23.1%,#edffed 30.8%,#e6ffe6 38.5%,#dfffdf 46.2%,#d6ffd6 53.8%,#cdffcd 61.5%,#c1ffc1 69.2%,#b4ffb4 76.9%,#a8ffa8 84.6%,#9bff9b 92.3%,#8fff8f)"></div><div style="background:linear-gradient(90deg,#ffffff,#fdfffd 7.7%,#f7fff7 15.4%,#f2fff2 23.1%,#edffed 30.8%,#e6ffe6 38.5%,#e0ffe0 46.2%,#d7ffd7 53.8%,#cdffcd 61.5%,#c2ffc2 69.2%,#b5ffb5 76.9%,#a8ffa8 84.6%,#9cff9c 92.3%,#90ff90)"></div><div style="background:linear-gradient(90deg,#ffffff,#fdfffd 7.7%,#f7fff7 15.4%,#f2fff2 23.1%,#edffed 30.8%,#e7ffe7 38.5%,#e0ffe0 46.2%,#d7ffd7 53.8%,#ceffce 61.5%,#c2ffc2 69.2%,#b5ffb5 76.9%,#a8ffa8 84.6%,#9cff9c 92.3%,#90ff90)"></div><div style="background:linear-gradient(90deg,#ffffff,#fdfffd 7.7%,#f8fff8 15.4%,#f2fff2 23.1%,#edffed 30.8%,#e7ffe7 38.5%,#e0ffe0 46.2%,#d8ffd8 53.8%,#ceffce 61.5%,#c3ffc3 69.2%,#b6ffb6 76.9%,#a9ffa9 84.6%,#9dff9d 92.3%,#91ff91)"></div><div style="background:linear-gradient(90deg,#ffffff,#fdfffd 7.7%,#f8fff8 15.4%,#f3fff3 23.1%,#eeffee 30.8%,#e7ffe7 38.5%,#e1ffe1 46.2%,#d8ffd8 53.8%,#ceffce 61.5%,#c3ffc3 69.2%,#b6ffb6 76.9%,#a9ffa9 84.6%,#9dff9d 92.3%,#91ff91)"></div><div style="background:linear-gradient(90deg,#ffffff,#fefffe 7.7%,#f8fff8 15.4%,#f3fff3 23.1%,#eeffee 30.8%,#e8ffe8 38.5%,#e1ffe1 46.2%,#d8ffd8 53.8%,#cfffcf 61.5%,#c4ffc4 69.2%,#b7ffb7 76.9%,#aaffaa 84.6%,#9eff9e 92.3%,#91ff91)"></div><div style="background:linear-gradient(90deg,#ffffff,#fefffe 7.7%,#f8fff8 15.4%,#f3fff3 23.1%,#eeffee 30.8%,#e8ffe8 38.5%,#e1ffe1 46.2%,#d9ffd9 53.8%,#cfffcf 61.5%,#c4ffc4 69.2%,#b7ffb7 76.9%,#aaffaa 84.6%,#9eff9e 92.3%,#92ff92)"></div><div style="background:linear-gradient(90deg,#ffffff,#fefffe 7.7%,#f9fff9 15.4%,#f4fff4 23.1%,#efffef 30.8%,#e8ffe8 38.5%,#e2ffe2 46.2%,#d9ffd9 53.8%,#cfffcf 61.5%,#c5ffc5 69.2%,#b8ffb8 76.9%,#abffab 84.6%,#9fff9f 92.3%,#92ff92)"></div><div style="background:linear-gradient(90deg,#ffffff,#ffffff 7.7%,#f9fff9 15.4%,#f4fff4 23.1%,#efffef 30.8%,#e9ffe9 38.5%,#e2ffe2 46.2%,#daffda 53.8%,#d0ffd0 61.5%,#c5ffc5 69.2%,#b8ffb8 76.9%,#abffab 84.6%,#9fff9f 92.3%,#93ff93)"></div><div style="background:linear-gradient(90deg,#ffffff,#ffffff 7.7%,#f9fff9 15.4%,#f4fff4 23.1%,#efffef 30.8%,#e9ffe9 38.5%,#e2ffe2 46.2%,#daffda 53.8%,#d0ffd0 61.5%,#c5ffc5 69.2%,#b8ffb8 76.9%,#acffac 84.6%,#9fff9f 92.3%,#93ff93)"></div><div style="background:linear-gradient(90deg,#ffffff,#ffffff 7.7%,#fafffa 15.4%,#f4fff4 23.1%,#efffef 30.8%,#e9ffe9 38.5%,#e3ffe3 46.2%,#daffda 53.8%,#d1ffd1 61.5%,#c6ffc6 69.2%,#b9ffb9 76.9%,#acffac 84.6%,#a0ffa0 92.3%,#94ff94)"></div><div style="background:linear-gradient(90deg,#ffffff,#ffffff 7.7%,#fafffa 15.4%,#f5fff5 23.1%,#f0fff0 30.8%,#eaffea 38.5%,#e3ffe3 46.2%,#dbffdb 53.8%,#d1ffd1 61.5%,#c6ffc6 69.2%,#b9ffb9 76.9%,#adffad 84.6%,#a0ffa0 92.3%,#94ff94)"></div><div style="background:linear-gradient(90deg,#ffffff,#ffffff 7.7%,#fafffa 15.4%,#f5fff5 23.1%,#f0fff0 30.8%,#eaffea 38.5%,#e3ffe3 46.2%,#dbffdb 53.8%,#d1ffd1 61.5%,#c7ffc7 69.2%,#baffba 76.9%,#adffad 84.6%,#a1ffa1 92.3%,#95ff95)"></div><div style="background:linear-gradient(90deg,#ffffff,#ffffff 7.7%,#fafffa 15.4%,#f5fff5 23.1%,#f0fff0 30.8%,#eaffea 38.5%,#e4ffe4 46.2%,#dcffdc 53.8%,#d2ffd2 61.5%,#c7ffc7 69.2%,#baffba 76.9%,#aeffae 84.6%,#a1ffa1 92.3%,#95ff95)"></div><div style="background:linear-gradient(90deg,#ffffff,#ffffff 7.7%,#fbfffb 15.4%,#f6fff6 23.1%,#f1fff1 30.8%,#ebffeb 38.5%,#e4ffe4 46.2%,#dcffdc 53.8%,#d2ffd2 61.5%,#c8ffc8 69.2%,#bbffbb 76.9%,#aeffae 84.6%,#a2ffa2 92.3%,#96ff96)"></div><div style="background:linear-gradient(90deg,#ffffff,#ffffff 7.7%,#fbfffb 15.4%,#f6fff6 23.1%,#f1fff1 30.8%,#ebffeb 38.5%,#e4ffe4 46.2%,#dcffdc 53.8%,#d3ffd3 61.5%,#c8ffc8 69.2%,#bbffbb 76.9%,#aeffae 84.6%,#a2ffa2 92.3%,#96ff96)"></div><div style="background:linear-gradient(90deg,#ffffff,#ffffff 7.7%,#fbfffb 15.4%,#f6fff6 23.1%,#f1fff1 30.8%,#ebffeb 38.5%,#e5ffe5 46.2%,#ddffdd 53.8%,#d3ffd3 61.5%,#c9ffc9 69.2%,#bcffbc 76.9%,#afffaf 84.6%,#a3ffa3 92.3%,#97ff97)"></div><div style="background:linear-gradient(90deg,#ffffff,#ffffff 7.7%,#fcfffc 15.4%,#f6fff6 23.1%,#f1fff1 30.8%,#ebffeb 38.5%,#e5ffe5 46.2%,#ddffdd 53.8%,#d3ffd3 61.5%,#c9ffc9 69.2%,#bcffbc 76.9%,#afffaf 84.6%,#a3ffa3 92.3%,#97ff97)"></div><div style="background:linear-gradient(90deg,#ffffff,#ffffff 7.7%,#fcfffc 15.4%,#f7fff7 23.1%,#f2fff2 30.8%,#ecffec 38.5%,#e5ffe5 46.2%,#deffde 53.8%,#d4ffd4 61.5%,#caffca 69.2%,#bdffbd 76.9%,#b0ffb0 84.6%,#a4ffa4 92.3%,#98ff98)"></div><div style="background:linear-gradient(90deg,#ffffff,#ffffff 7.7%,#fcfffc 15.4%,#f7fff7 23.1%,#f2fff2 30.8%,#ecffec 38.5%,#e6ffe6 46.2%,#deffde 53.8%,#d4ffd4 61.5%,#caffca 69.2%,#bdffbd 76.9%,#b0ffb0 84.6%,#a4ffa4 92.3%,#98ff98)"></div><div style="background:linear-gradient(90deg,#ffffff,#ffffff 7.7%,#fcfffc 15.4%,#f7fff7 23.1%,#f2fff2 30.8%,#ecffec 38.5%,#e6ffe6 46.2%,#deffde 53.8%,#d5ffd5 61.5%,#cbffcb 69.2%,#beffbe 76.9%,#b1ffb1 84.6%,#a5ffa5 92.3%,#99ff99)"></div><div style="background:linear-gradient(90deg,#ffffff,#ffffff 7.7%,#fdfffd 15.4%,#f8fff8 23.1%,#f3fff3 30.8%,#edffed 38.5%,#e6ffe6 46.2%,#dfffdf 53.8%,#d5ffd5 61.5%,#cbffcb 69.2%,#beffbe 76.9%,#b1ffb1 84.6%,#a5ffa5 92.3%,#99ff99)"></div><div style="background:linear-gradient(90deg,#ffffff,#ffffff 7.7%,#fdfffd 15.4%,#f8fff8 23.1%,#f3fff3 30.8%,#edffed 38.5%,#e7ffe7 46.2%,#dfffdf 53.8%,#d6ffd6 61.5%,#ccffcc 69.2%,#bfffbf 76.9%,#b2ffb2 84.6%,#a6ffa6 92.3%,#9aff9a)"></div><div style="background:linear-gradient(90deg,#ffffff,#ffffff 7.7%,#fdfffd 15.4%,#f8fff8 23.1%,#f3fff3 30.8%,#edffed 38.5%,#e7ffe7 46.2%,#e0ffe0 53.8%,#d6ffd6 61.5%,#ccffcc 69.2%,#bfffbf 76.9%,#b2ffb2 84.6%,#a6ffa6 92.3%,#9aff9a)"></div><div style="background:linear-gradient(90deg,#ffffff,#ffffff 7.7%,#fefffe 15.4%,#f8fff8 23.1%,#f4fff4 30.8%,#eeffee 38.5%,#e7ffe7 46.2%,#e0ffe0 53.8%,#d6ffd6 61.5%,#ccffcc 69.2%,#c0ffc0 76.9%,#b3ffb3 84.6%,#a7ffa7 92.3%,#9bff9b)"></div><div style="background:linear-gradient(90deg,#ffffff,#ffffff 7.7%,#fefffe 15.4%,#f9fff9 23.1%,#f4fff4 30.8%,#eeffee 38.5%,#e8ffe8 46.2%,#e0ffe0 53.8%,#d7ffd7 61.5%,#cdffcd 69.2%,#c0ffc0 76.9%,#b3ffb3 84.6%,#a7ffa7 92.3%,#9bff9b)"></div><div style="background:linear-gradient(90deg,#ffffff,#ffffff 7.7%,#fefffe 15.4%,#f9fff9 23.1%,#f4fff4 30.8%,#efffef 38.5%,#e8ffe8 46.2%,#e1ffe1 53.8%,#d7ffd7 61.5%,#cdffcd 69.2%,#c1ffc1 76.9%,#b4ffb4 84.6%,#a8ffa8 92.3%,#9cff9c)"></div><div style="background:linear-gradient(90deg,#ffffff,#ffffff 7.7%,#fefffe 15.4%,#f9fff9 23.1%,#f4fff4 30.8%,#efffef 38.5%,#e8ffe8 46.2%,#e1ffe1 53.8%,#d8ffd8 61.5%,#ceffce 69.2%,#c1ffc1 76.9%,#b4ffb4 84.6%,#a8ffa8 92.3%,#9cff9c)"></div><div style="background:linear-gradient(90deg,#ffffff,#ffffff 7.7%,#ffffff 15.4%,#fafffa 23.1%,#f5fff5 30.8%,#efffef 38.5%,#e9ffe9 46.2%,#e2ffe2 53.8%,#d8ffd8 61.5%,#ceffce 69.2%,#c1ffc1 76.9%,#b5ffb5 84.6%,#a9ffa9 92.3%,#9dff9d)"></div><div style="background:linear-gradient(90deg,#ffffff,#ffffff 7.7%,#ffffff 15.4%,#fafffa 23.1%,#f5fff5 30.8%,#f0fff0 38.5%,#e9ffe9 46.2%,#e2ffe2 53.8%,#d8ffd8 61.5%,#cfffcf 69.2%,#c2ffc2 76.9%,#b5ffb5 84.6%,#a9ffa9 92.3%,#9dff9d)"></div><div style="background:linear-gradient(90deg,#ffffff,#ffffff 7.7%,#ffffff 15.4%,#fafffa 23.1%,#f5fff5 30.8%,#f0fff0 38.5%,#e9ffe9 46.2%,#e2ffe2 53.8%,#d9ffd9 61.5%,#cfffcf 69.2%,#c2ffc2 76.9%,#b6ffb6 84.6%,#aaffaa 92.3%,#9eff9e)"></div><div style="background:linear-gradient(90deg,#ffffff,#ffffff 7.7%,#ffffff 15.4%,#fbfffb 23.1%,#f6fff6 30.8%,#f0fff0 38.5%,#eaffea 46.2%,#e3ffe3 53.8%,#d9ffd9 61.5%,#d0ffd0 69.2%,#c3ffc3 76.9%,#b6ffb6 84.6%,#aaffaa 92.3%,#9eff9e)"></div><div style="background:linear-gradient(90deg,#ffffff,#ffffff 7.7%,#ffffff 15.4%,#fbfffb 23.1%,#f6fff6 30.8%,#f1fff1 38.5%,#eaffea 46.2%,#e3ffe3 53.8%,#daffda 61.5%,#d0ffd0 69.2%,#c3ffc3 76.9%,#b7ffb7 84.6%,#aaffaa 92.3%,#9fff9f)"></div><div style="background:linear-gradient(90deg,#ffffff,#ffffff 7.7%,#ffffff 15.4%,#fbfffb 23.1%,#f6fff6 30.8%,#f1fff1 38.5%,#eaffea 46.2%,#e4ffe4 53.8%,#daffda 61.5%,#d1ffd1 69.2%,#c4ffc4 76.9%,#b7ffb7 84.6%,#abffab 92.3%,#9fff9f)"></div><div style="background:linear-gradient(90deg,#ffffff,#ffffff 7.7%,#ffffff 15.4%,#fbfffb 23.1%,#f7fff7 30.8%,#f1fff1 38.5%,#ebffeb 46.2%,#e4ffe4 53.8%,#daffda 61.5%,#d1ffd1 69.2%,#c4ffc4 76.9%,#b8ffb8 84.6%,#abffab 92.3%,#a0ffa0)"></div><div style="background:linear-gradient(90deg,#ffffff,#ffffff 7.7%,#ffffff 15.4%,#fcfffc 23.1%,#f7fff7 30.8%,#f2fff2 38.5%,#ebffeb 46.2%,#e4ffe4 53.8%,#dbffdb 61.5%,#d1ffd1 69.2%,#c5ffc5 76.9%,#b8ffb8 84.6%,#acffac 92.3%,#a0ffa0)"></div><div style="background:linear-gradient(90deg,#ffffff,#ffffff 7.7%,#ffffff 15.4%,#fcfffc 23.1%,#f7fff7 30.8%,#f2fff2 38.5%,#ecffec 46.2%,#e5ffe5 53.8%,#dbffdb 61.5%,#d2ffd2 69.2%,#c5ffc5 76.9%,#b9ffb9 84.6%,#acffac 92.3%,#a1ffa1)"></div><div style="background:linear-gradient(90deg,#ffffff,#ffffff 7.7%,#ffffff 15.4%,#fcfffc 23.1%,#f8fff8 30.8%,#f2fff2 38.5%,#ecffec 46.2%,#e5ffe5 53.8%,#dcffdc 61.5%,#d2ffd2 69.2%,#c6ffc6 76.9%,#b9ffb9 84.6%,#adffad 92.3%,#a1ffa1)"></div><div style="background:linear-gradient(90deg,#ffffff,#ffffff 7.7%,#ffffff 15.4%,#fdfffd 23.1%,#f8fff8 30.8%,#f3fff3 38.5%,#ecffec 46.2%,#e6ffe6 53.8%,#dcffdc 61.5%,#d3ffd3 69.2%,#c6ffc6 76.9%,#baffba 84.6%,#adffad 92.3%,#a2ffa2)"></div><div style="background:linear-gradient(90deg,#ffffff,#ffffff 7.7%,#ffffff 15.4%,#fdfffd 23.1%,#f8fff8 30.8%,#f3fff3 38.5%,#edffed 46.2%,#e6ffe6 53.8%,#ddffdd 61.5%,#d3ffd3 69.2%,#c7ffc7 76.9%,#baffba 84.6%,#aeffae 92.3%,#a2ffa2)"></div><div style="background:linear-gradient(90deg,#ffffff,#ffffff 7.7%,#ffffff 15.4%,#fdfffd 23.1%,#f9fff9 30.8%,#f3fff3 38.5%,#edffed 46.2%,#e6ffe6 53.8%,#ddffdd 61.5%,#d4ffd4 69.2%,#c7ffc7 76.9%,#bbffbb 84.6%,#aeffae 92.3%,#a3ffa3)"></div><div style="background:linear-gradient(90deg,#ffffff,#ffffff 7.7%,#ffffff 15.4%,#fefffe 23.1%,#f9fff9 30.8%,#f4fff4 38.5%,#edffed 46.2%,#e7ffe7 53.8%,#ddffdd 61.5%,#d4ffd4 69.2%,#c8ffc8 76.9%,#bbffbb 84.6%,#afffaf 92.3%,#a3ffa3)"></div><div style="background:linear-gradient(90deg,#ffffff,#ffffff 7.7%,#ffffff 15.4%,#fefffe 23.1%,#f9fff9 30.8%,#f4fff4 38.5%,#eeffee 46.2%,#e7ffe7 53.8%,#deffde 61.5%,#d4ffd4 69.2%,#c8ffc8 76.9%,#bcffbc 84.6%,#afffaf 92.3%,#a4ffa4)"></div><div style="background:linear-gradient(90deg,#ffffff,#ffffff 7.7%,#ffffff 15.4%,#fefffe 23.1%,#f9fff9 30.8%,#f4fff4 38.5%,#eeffee 46.2%,#e8ffe8 53.8%,#deffde 61.5%,#d5ffd5 69.2%,#c9ffc9 76.9%,#bcffbc 84.6%,#b0ffb0 92.3%,#a4ffa4)"></div><div style="background:linear-gradient(90deg,#ffffff,#ffffff 7.7%,#ffffff 15.4%,#ffffff 23.1%,#fafffa 30.8%,#f5fff5 38.5%,#eeffee 46.2%,#e8ffe8 53.8%,#dfffdf 61.5%,#d5ffd5 69.2%,#c9ffc9 76.9%,#bdffbd 84.6%,#b0ffb0 92.3%,#a5ffa5)"></div><div style="background:linear-gradient(90deg,#ffffff,#ffffff 7.7%,#ffffff 15.4%,#ffffff 23.1%,#fafffa 30.8%,#f5fff5 38.5%,#efffef 46.2%,#e9ffe9 53.8%,#dfffdf 61.5%,#d6ffd6 69.2%,#caffca 76.9%,#bdffbd 84.6%,#b1ffb1 92.3%,#a5ffa5)"></div><div style="background:linear-gradient(90deg,#ffffff,#ffffff 7.7%,#ffffff 15.4%,#ffffff 23.1%,#fafffa 30.8%,#f5fff5 38.5%,#efffef 46.2%,#e9ffe9 53.8%,#e0ffe0 61.5%,#d6ffd6 69.2%,#caffca 76.9%,#beffbe 84.6%,#b1ffb1 92.3%,#a6ffa6)"></div><div style="background:linear-gradient(90deg,#ffffff,#ffffff 7.7%,#ffffff 15.4%,#ffffff 23.1%,#fbfffb 30.8%,#f6fff6 38.5%,#efffef 46.2%,#e9ffe9 53.8%,#e0ffe0 61.5%,#d7ffd7 69.2%,#cbffcb 76.9%,#beffbe 84.6%,#b2ffb2 92.3%,#a6ffa6)"></div><div style="background:linear-gradient(90deg,#ffffff,#ffffff 7.7%,#ffffff 15.4%,#ffffff 23.1%,#fbfffb 30.8%,#f6fff6 38.5%,#f0fff0 46.2%,#eaffea 53.8%,#e0ffe0 61.5%,#d7ffd7 69.2%,#cbffcb 76.9%,#bfffbf 84.6%,#b2ffb2 92.3%,#a7ffa7)"></div><div style="background:linear-gradient(90deg,#ffffff,#ffffff 7.7%,#ffffff 15.4%,#ffffff 23.1%,#fbfffb 30.8%,#f6fff6 38.5%,#f0fff0 46.2%,#eaffea 53.8%,#e1ffe1 61.5%,#d7ffd7 69.2%,#ccffcc 76.9%,#bfffbf 84.6%,#b3ffb3 92.3%,#a7ffa7)"></div><div style="background:linear-gradient(90deg,#ffffff,#ffffff 7.7%,#ffffff 15.4%,#ffffff 23.1%,#fcfffc 30.8%,#f7fff7 38.5%,#f1fff1 46.2%,#eaffea 53.8%,#e1ffe1 61.5%,#d8ffd8 69.2%,#ccffcc 76.9%,#c0ffc0 84.6%,#b3ffb3 92.3%,#a8ffa8)"></div><div style="background:linear-gradient(90deg,#ffffff,#ffffff 7.7%,#ffffff 15.4%,#ffffff 23.1%,#fcfffc 30.8%,#f7fff7 38.5%,#f1fff1 46.2%,#ebffeb 53.8%,#e2ffe2 61.5%,#d8ffd8 69.2%,#cdffcd 76.9%,#c0ffc0 84.6%,#b4ffb4 92.3%,#a8ffa8)"></div></div>
<svg width="766" height="571" viewBox="0 0 766 571">
<defs>
<linearGradient id="bg" gradientUnits="userSpaceOnUse" x1="-158.56" y1="118.74" x2="469.13" y2="-351.34"><stop offset="0.0000" stop-color="rgb(255,255,255)"/><stop offset="0.0417" stop-color="rgb(255,255,255)"/><stop offset="0.0833" stop-color="rgb(255,255,255)"/><stop offset="0.1250" stop-color="rgb(253,255,253)"/><stop offset="0.1667" stop-color="rgb(248,255,248)"/><stop offset="0.2083" stop-color="rgb(243,255,243)"/><stop offset="0.2500" stop-color="rgb(238,255,238)"/><stop offset="0.2917" stop-color="rgb(234,255,234)"/><stop offset="0.3333" stop-color="rgb(229,255,229)"/><stop offset="0.3750" stop-color="rgb(222,255,222)"/><stop offset="0.4167" stop-color="rgb(216,255,216)"/><stop offset="0.4583" stop-color="rgb(208,255,208)"/><stop offset="0.5000" stop-color="rgb(199,255,199)"/><stop offset="0.5417" stop-color="rgb(190,255,190)"/><stop offset="0.5833" stop-color="rgb(180,255,180)"/><stop offset="0.6250" stop-color="rgb(169,255,169)"/><stop offset="0.6667" stop-color="rgb(158,255,158)"/><stop offset="0.7083" stop-color="rgb(146,255,146)"/><stop offset="0.7500" stop-color="rgb(135,255,135)"/><stop offset="0.7917" stop-color="rgb(124,255,124)"/><stop offset="0.8333" stop-color="rgb(114,255,114)"/><stop offset="0.8750" stop-color="rgb(105,255,105)"/><stop offset="0.9167" stop-color="rgb(97,255,97)"/><stop offset="0.9583" stop-color="rgb(90,255,90)"/><stop offset="1.0000" stop-color="rgb(87,255,87)"/></linearGradient>
<radialGradient id="sph" cx="0.45" cy="0.45" r="0.6">
<stop offset="0" stop-color="#ff0606" stop-opacity="0.8"/>
<stop offset="0.72" stop-color="#ff0404" stop-opacity="0.82"/>
<stop offset="1" stop-color="#f00000" stop-opacity="0.92"/>
</radialGradient>
<radialGradient id="hl" cx="0.5" cy="0.5" r="0.5">
<stop offset="0" stop-color="#fff" stop-opacity="1"/>
<stop offset="0.2" stop-color="#fff" stop-opacity="0.9"/>
<stop offset="0.55" stop-color="#fff" stop-opacity="0.35"/>
<stop offset="1" stop-color="#fff" stop-opacity="0"/>
</radialGradient>
<g id="ball"><circle cx="0" cy="0" r="7.55" fill="url(#sph)"/><circle cx="-2.4" cy="-2.4" r="4.8" fill="url(#hl)"/></g>
</defs>
<g stroke="#000" stroke-width="3.2">
<line x1="97.3" y1="472.55" x2="106" y2="472.55"/>
<line x1="97.3" y1="442.17" x2="106" y2="442.17"/>
<line x1="97.3" y1="411.80" x2="106" y2="411.80"/>
<line x1="97.3" y1="381.42" x2="106" y2="381.42"/>
<line x1="97.3" y1="351.05" x2="106" y2="351.05"/>
<line x1="97.3" y1="320.67" x2="106" y2="320.67"/>
<line x1="97.3" y1="290.29" x2="106" y2="290.29"/>
<line x1="97.3" y1="259.92" x2="106" y2="259.92"/>
<line x1="97.3" y1="229.54" x2="106" y2="229.54"/>
<line x1="97.3" y1="199.17" x2="106" y2="199.17"/>
<line x1="97.3" y1="168.79" x2="106" y2="168.79"/>
<line x1="97.3" y1="138.41" x2="106" y2="138.41"/>
<line x1="97.3" y1="108.04" x2="106" y2="108.04"/>
<line x1="97.3" y1="77.66" x2="106" y2="77.66"/>
<line x1="97.3" y1="47.29" x2="106" y2="47.29"/>
<line x1="97.3" y1="16.91" x2="106" y2="16.91"/>
<line x1="105.95" y1="472.4" x2="105.95" y2="480.6"/>
<line x1="184.34" y1="472.4" x2="184.34" y2="476.8"/>
<line x1="262.73" y1="472.4" x2="262.73" y2="480.6"/>
<line x1="341.11" y1="472.4" x2="341.11" y2="476.8"/>
<line x1="419.50" y1="472.4" x2="419.50" y2="480.6"/>
<line x1="497.89" y1="472.4" x2="497.89" y2="476.8"/>
<line x1="576.27" y1="472.4" x2="576.27" y2="480.6"/>
<line x1="654.66" y1="472.4" x2="654.66" y2="476.8"/>
<line x1="733.05" y1="472.4" x2="733.05" y2="480.6"/>
</g>
<rect x="108.1" y="2.85" width="622.8" height="467.6" fill="none" stroke="#fff" stroke-opacity="0.3" stroke-width="1"/>
<rect x="106" y="0.75" width="627" height="471.8" fill="none" stroke="#000" stroke-width="3.2"/>
<text class="tk" x="84.7" y="482.85" text-anchor="end">0</text>
<text class="tk" x="84.7" y="452.47" text-anchor="end">2</text>
<text class="tk" x="84.7" y="422.10" text-anchor="end">4</text>
<text class="tk" x="84.7" y="391.72" text-anchor="end">6</text>
<text class="tk" x="84.7" y="361.35" text-anchor="end">8</text>
<text class="tk" x="84.7" y="330.97" text-anchor="end">10</text>
<text class="tk" x="84.7" y="300.59" text-anchor="end">12</text>
<text class="tk" x="84.7" y="270.22" text-anchor="end">14</text>
<text class="tk" x="84.7" y="239.84" text-anchor="end">16</text>
<text class="tk" x="84.7" y="209.47" text-anchor="end">18</text>
<text class="tk" x="84.7" y="179.09" text-anchor="end">20</text>
<text class="tk" x="84.7" y="148.71" text-anchor="end">22</text>
<text class="tk" x="84.7" y="118.34" text-anchor="end">24</text>
<text class="tk" x="84.7" y="87.96" text-anchor="end">26</text>
<text class="tk" x="84.7" y="57.59" text-anchor="end">28</text>
<text class="tk" x="84.7" y="27.21" text-anchor="end">30</text>
<text class="tk" x="105.95" y="513.3" text-anchor="middle">0</text>
<text class="tk" x="262.73" y="513.3" text-anchor="middle">500</text>
<text class="tk" x="419.50" y="513.3" text-anchor="middle">1000</text>
<text class="tk" x="576.27" y="513.3" text-anchor="middle">1500</text>
<text class="tk" x="733.05" y="513.3" text-anchor="middle">2000</text>
<text class="tt" transform="translate(419.4,556.9)" text-anchor="middle">Average power (mW)</text>
<text class="tt" transform="translate(24.9,235.8) rotate(-90)" text-anchor="middle">Mode order</text>
<rect x="430.6" y="53.3" width="295.1" height="131" fill="#fff" stroke="#000" stroke-opacity="0.65" stroke-width="1.1"/>
<path d="M459.20 70.30 L467.70 78.80 L459.20 87.30 L450.70 78.80Z" fill="#ffb080"/>
<path d="M459.30 109.10 L467.80 123.80 L450.80 123.80Z" fill="#6666cc"/>
<use href="#ball" x="459.40" y="159.90"/>
<text transform="translate(479.9,88.1)">Vortex laser</text>
<text transform="translate(478.6,126.6)">Mode converter</text>
<text transform="translate(479.7,169.2)">This work</text>
<path d="M114.26 448.86 L122.76 457.36 L114.26 465.86 L105.76 457.36Z" fill="#ffb080"/>
<path d="M120.53 448.86 L129.03 457.36 L120.53 465.86 L112.03 457.36Z" fill="#ffb080"/>
<path d="M118.40 402.00 L126.90 416.70 L109.90 416.70Z" fill="#6666cc"/>
<path d="M117.71 432.37 L126.21 447.07 L109.21 447.07Z" fill="#6666cc"/>
<path d="M206.44 432.37 L214.94 447.07 L197.94 447.07Z" fill="#6666cc"/>
<path d="M237.20 447.56 L245.70 462.26 L228.70 462.26Z" fill="#6666cc"/>
<use href="#ball" x="305.05" y="16.19"/>
<use href="#ball" x="318.22" y="31.40"/>
<use href="#ball" x="324.49" y="46.60"/>
<use href="#ball" x="309.13" y="61.81"/>
<use href="#ball" x="333.90" y="77.02"/>
<use href="#ball" x="342.99" y="92.22"/>
<use href="#ball" x="320.42" y="107.43"/>
<use href="#ball" x="328.57" y="122.64"/>
<use href="#ball" x="294.71" y="137.85"/>
<use href="#ball" x="332.33" y="153.05"/>
<use href="#ball" x="307.41" y="168.26"/>
<use href="#ball" x="320.42" y="183.47"/>
<use href="#ball" x="326.38" y="198.67"/>
<use href="#ball" x="299.41" y="213.88"/>
<use href="#ball" x="269.81" y="229.09"/>
<use href="#ball" x="357.01" y="244.29"/>
<use href="#ball" x="293.70" y="259.50"/>
<use href="#ball" x="303.61" y="274.71"/>
<use href="#ball" x="335.47" y="289.92"/>
<use href="#ball" x="609.51" y="305.12"/>
<use href="#ball" x="234.41" y="320.33"/>
<use href="#ball" x="249.71" y="320.33"/>
<use href="#ball" x="323.87" y="335.54"/>
<use href="#ball" x="325.75" y="350.74"/>
<use href="#ball" x="218.01" y="365.95"/>
<use href="#ball" x="217.01" y="381.16"/>
<use href="#ball" x="242.97" y="396.37"/>
<use href="#ball" x="185.91" y="411.57"/>
<use href="#ball" x="209.42" y="426.78"/>
<use href="#ball" x="245.39" y="441.99"/>
<use href="#ball" x="297.91" y="457.19"/>
</svg>
</body></html>
